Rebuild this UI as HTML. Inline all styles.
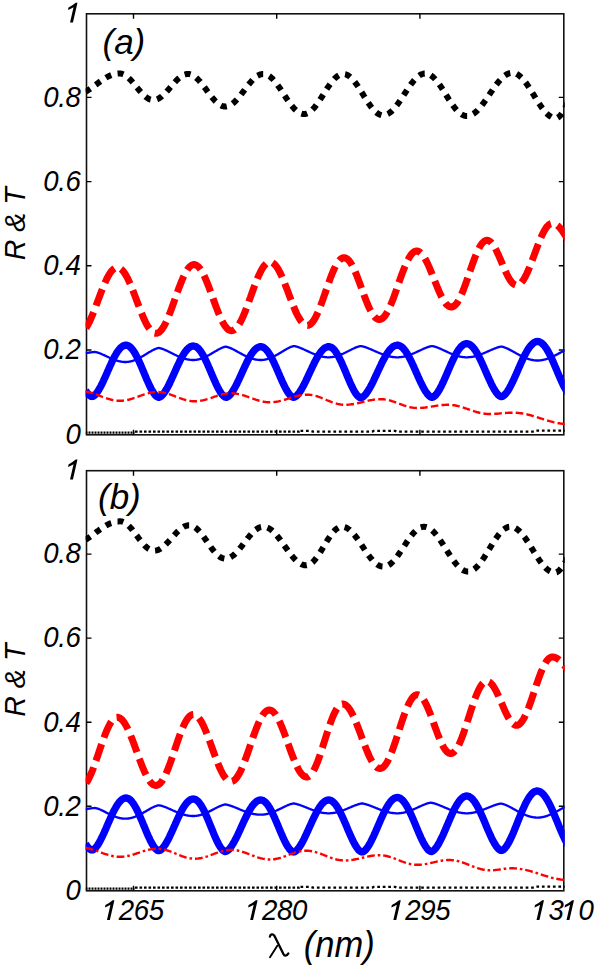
<!DOCTYPE html>
<html><head><meta charset="utf-8"><title>R &amp; T</title>
<style>
html,body{margin:0;padding:0;background:#fff;}
body{width:600px;height:967px;overflow:hidden;}
svg{display:block;}
text{font-family:"Liberation Sans",sans-serif;font-style:italic;fill:#000;}
.tk{font-size:27.6px;letter-spacing:-0.35px;}
.pl{font-size:35px;}
.yl{font-size:28.6px;}
.xl{font-size:34.5px;}
</style></head><body>
<svg width="600" height="967" viewBox="0 0 600 967">
<rect x="0" y="0" width="600" height="967" fill="#fff"/>
<g id="panel-a">
<rect x="86.5" y="13.8" width="477.3" height="421" fill="none" stroke="#111" stroke-width="1.6"/>
<path d="M133.5 13.8v5.0 M133.5 434.8v-5.0 M276.7 13.8v5.0 M276.7 434.8v-5.0 M419.9 13.8v5.0 M419.9 434.8v-5.0 M86.5 350.0h5.0 M563.8 350.0h-5.0 M86.5 265.8h5.0 M563.8 265.8h-5.0 M86.5 181.6h5.0 M563.8 181.6h-5.0 M86.5 97.4h5.0 M563.8 97.4h-5.0" stroke="#000" stroke-width="1.4" fill="none"/>
<clipPath id="clip-a"><rect x="85.6" y="13.8" width="479.1" height="421.9"/></clipPath>
<g clip-path="url(#clip-a)" fill="none" stroke-linejoin="round">
<path d="M85.5 353.2 L86.0 353.1 L86.5 353.0 L87.0 352.9 L87.5 352.8 L88.0 352.8 L88.5 352.7 L89.0 352.6 L89.5 352.5 L90.0 352.5 L90.5 352.4 L91.0 352.3 L91.5 352.3 L92.0 352.2 L92.5 352.2 L93.0 352.1 L93.5 352.1 L94.0 352.0 L94.5 352.0 L95.0 352.0 L95.5 352.1 L96.0 352.1 L96.5 352.3 L97.0 352.4 L97.5 352.5 L98.0 352.7 L98.5 352.8 L99.0 353.0 L99.5 353.2 L100.0 353.4 L100.5 353.6 L101.0 353.8 L101.5 354.0 L102.0 354.2 L102.5 354.5 L103.0 354.7 L103.5 354.9 L104.0 355.1 L104.5 355.4 L105.0 355.6 L105.5 355.8 L106.0 356.1 L106.5 356.3 L107.0 356.6 L107.5 356.8 L108.0 357.0 L108.5 357.3 L109.0 357.5 L109.5 357.7 L110.0 358.0 L110.5 358.2 L111.0 358.4 L111.5 358.6 L112.0 358.8 L112.5 359.0 L113.0 359.2 L113.5 359.4 L114.0 359.6 L114.5 359.8 L115.0 360.0 L115.5 360.2 L116.0 360.4 L116.5 360.5 L117.0 360.7 L117.5 360.8 L118.0 361.0 L118.5 361.1 L119.0 361.2 L119.5 361.3 L120.0 361.4 L120.5 361.5 L121.0 361.6 L121.5 361.7 L122.0 361.8 L122.5 361.8 L123.0 361.9 L123.5 361.9 L124.0 362.0 L124.5 362.0 L125.0 362.0 L125.5 362.0 L126.0 362.0 L126.5 362.0 L127.0 361.9 L127.5 361.9 L128.0 361.9 L128.5 361.8 L129.0 361.7 L129.5 361.6 L130.0 361.5 L130.5 361.4 L131.0 361.3 L131.5 361.2 L132.0 361.1 L132.5 360.9 L133.0 360.8 L133.5 360.6 L134.0 360.4 L134.5 360.2 L135.0 360.0 L135.5 359.8 L136.0 359.6 L136.5 359.4 L137.0 359.2 L137.5 358.9 L138.0 358.7 L138.5 358.5 L139.0 358.2 L139.5 357.9 L140.0 357.7 L140.5 357.4 L141.0 357.1 L141.5 356.8 L142.0 356.6 L142.5 356.3 L143.0 356.0 L143.5 355.7 L144.0 355.4 L144.5 355.1 L145.0 354.8 L145.5 354.5 L146.0 354.2 L146.5 353.9 L147.0 353.5 L147.5 353.2 L148.0 352.9 L148.5 352.6 L149.0 352.3 L149.5 352.0 L150.0 351.7 L150.5 351.5 L151.0 351.2 L151.5 350.9 L152.0 350.6 L152.5 350.3 L153.0 350.1 L153.5 349.8 L154.0 349.6 L154.5 349.4 L155.0 349.1 L155.5 348.9 L156.0 348.7 L156.5 348.5 L157.0 348.4 L157.5 348.2 L158.0 348.1 L158.5 348.0 L159.0 348.0 L159.5 348.1 L160.0 348.2 L160.5 348.3 L161.0 348.5 L161.5 348.6 L162.0 348.8 L162.5 348.9 L163.0 349.1 L163.5 349.3 L164.0 349.5 L164.5 349.7 L165.0 349.9 L165.5 350.2 L166.0 350.4 L166.5 350.6 L167.0 350.8 L167.5 351.1 L168.0 351.3 L168.5 351.6 L169.0 351.8 L169.5 352.1 L170.0 352.3 L170.5 352.6 L171.0 352.8 L171.5 353.1 L172.0 353.3 L172.5 353.6 L173.0 353.8 L173.5 354.1 L174.0 354.3 L174.5 354.6 L175.0 354.8 L175.5 355.0 L176.0 355.3 L176.5 355.5 L177.0 355.8 L177.5 356.0 L178.0 356.2 L178.5 356.4 L179.0 356.6 L179.5 356.9 L180.0 357.1 L180.5 357.3 L181.0 357.5 L181.5 357.7 L182.0 357.8 L182.5 358.0 L183.0 358.2 L183.5 358.4 L184.0 358.5 L184.5 358.7 L185.0 358.8 L185.5 358.9 L186.0 359.1 L186.5 359.2 L187.0 359.3 L187.5 359.4 L188.0 359.5 L188.5 359.6 L189.0 359.7 L189.5 359.7 L190.0 359.8 L190.5 359.9 L191.0 359.9 L191.5 359.9 L192.0 360.0 L192.5 360.0 L193.0 360.0 L193.5 360.0 L194.0 360.0 L194.5 360.0 L195.0 359.9 L195.5 359.9 L196.0 359.8 L196.5 359.8 L197.0 359.7 L197.5 359.6 L198.0 359.5 L198.5 359.4 L199.0 359.3 L199.5 359.1 L200.0 359.0 L200.5 358.9 L201.0 358.7 L201.5 358.5 L202.0 358.4 L202.5 358.2 L203.0 358.0 L203.5 357.8 L204.0 357.6 L204.5 357.3 L205.0 357.1 L205.5 356.9 L206.0 356.6 L206.5 356.4 L207.0 356.1 L207.5 355.9 L208.0 355.6 L208.5 355.3 L209.0 355.1 L209.5 354.8 L210.0 354.5 L210.5 354.2 L211.0 353.9 L211.5 353.6 L212.0 353.3 L212.5 353.0 L213.0 352.7 L213.5 352.4 L214.0 352.1 L214.5 351.8 L215.0 351.5 L215.5 351.2 L216.0 351.0 L216.5 350.7 L217.0 350.4 L217.5 350.1 L218.0 349.8 L218.5 349.5 L219.0 349.3 L219.5 349.0 L220.0 348.7 L220.5 348.5 L221.0 348.3 L221.5 348.0 L222.0 347.8 L222.5 347.6 L223.0 347.4 L223.5 347.2 L224.0 347.1 L224.5 346.9 L225.0 346.8 L225.5 346.7 L226.0 346.7 L226.5 346.8 L227.0 346.9 L227.5 347.1 L228.0 347.2 L228.5 347.4 L229.0 347.5 L229.5 347.7 L230.0 347.9 L230.5 348.1 L231.0 348.4 L231.5 348.6 L232.0 348.8 L232.5 349.1 L233.0 349.3 L233.5 349.5 L234.0 349.8 L234.5 350.1 L235.0 350.3 L235.5 350.6 L236.0 350.9 L236.5 351.1 L237.0 351.4 L237.5 351.7 L238.0 352.0 L238.5 352.2 L239.0 352.5 L239.5 352.8 L240.0 353.1 L240.5 353.3 L241.0 353.6 L241.5 353.9 L242.0 354.1 L242.5 354.4 L243.0 354.7 L243.5 354.9 L244.0 355.2 L244.5 355.4 L245.0 355.7 L245.5 355.9 L246.0 356.2 L246.5 356.4 L247.0 356.6 L247.5 356.9 L248.0 357.1 L248.5 357.3 L249.0 357.5 L249.5 357.7 L250.0 357.9 L250.5 358.1 L251.0 358.3 L251.5 358.4 L252.0 358.6 L252.5 358.7 L253.0 358.9 L253.5 359.0 L254.0 359.1 L254.5 359.3 L255.0 359.4 L255.5 359.5 L256.0 359.6 L256.5 359.7 L257.0 359.7 L257.5 359.8 L258.0 359.9 L258.5 359.9 L259.0 359.9 L259.5 360.0 L260.0 360.0 L260.5 360.0 L261.0 360.0 L261.5 360.0 L262.0 360.0 L262.5 359.9 L263.0 359.9 L263.5 359.8 L264.0 359.8 L264.5 359.7 L265.0 359.6 L265.5 359.5 L266.0 359.4 L266.5 359.3 L267.0 359.1 L267.5 359.0 L268.0 358.8 L268.5 358.7 L269.0 358.5 L269.5 358.3 L270.0 358.1 L270.5 357.9 L271.0 357.7 L271.5 357.5 L272.0 357.3 L272.5 357.1 L273.0 356.8 L273.5 356.6 L274.0 356.4 L274.5 356.1 L275.0 355.8 L275.5 355.6 L276.0 355.3 L276.5 355.0 L277.0 354.7 L277.5 354.5 L278.0 354.2 L278.5 353.9 L279.0 353.6 L279.5 353.3 L280.0 353.0 L280.5 352.7 L281.0 352.4 L281.5 352.1 L282.0 351.8 L282.5 351.5 L283.0 351.2 L283.5 350.9 L284.0 350.6 L284.5 350.3 L285.0 350.0 L285.5 349.7 L286.0 349.4 L286.5 349.1 L287.0 348.8 L287.5 348.6 L288.0 348.3 L288.5 348.1 L289.0 347.8 L289.5 347.6 L290.0 347.3 L290.5 347.1 L291.0 346.9 L291.5 346.7 L292.0 346.6 L292.5 346.4 L293.0 346.3 L293.5 346.2 L294.0 346.1 L294.5 346.1 L295.0 346.2 L295.5 346.3 L296.0 346.5 L296.5 346.6 L297.0 346.7 L297.5 346.9 L298.0 347.0 L298.5 347.2 L299.0 347.4 L299.5 347.6 L300.0 347.8 L300.5 348.0 L301.0 348.2 L301.5 348.4 L302.0 348.6 L302.5 348.8 L303.0 349.1 L303.5 349.3 L304.0 349.5 L304.5 349.7 L305.0 350.0 L305.5 350.2 L306.0 350.4 L306.5 350.7 L307.0 350.9 L307.5 351.1 L308.0 351.4 L308.5 351.6 L309.0 351.8 L309.5 352.1 L310.0 352.3 L310.5 352.5 L311.0 352.7 L311.5 353.0 L312.0 353.2 L312.5 353.4 L313.0 353.6 L313.5 353.8 L314.0 354.0 L314.5 354.2 L315.0 354.4 L315.5 354.6 L316.0 354.8 L316.5 355.0 L317.0 355.2 L317.5 355.3 L318.0 355.5 L318.5 355.7 L319.0 355.8 L319.5 355.9 L320.0 356.1 L320.5 356.2 L321.0 356.3 L321.5 356.5 L322.0 356.6 L322.5 356.7 L323.0 356.8 L323.5 356.9 L324.0 356.9 L324.5 357.0 L325.0 357.1 L325.5 357.1 L326.0 357.2 L326.5 357.2 L327.0 357.3 L327.5 357.3 L328.0 357.3 L328.5 357.3 L329.0 357.3 L329.5 357.3 L330.0 357.3 L330.5 357.2 L331.0 357.2 L331.5 357.1 L332.0 357.1 L332.5 357.0 L333.0 356.9 L333.5 356.9 L334.0 356.8 L334.5 356.7 L335.0 356.5 L335.5 356.4 L336.0 356.3 L336.5 356.2 L337.0 356.0 L337.5 355.8 L338.0 355.7 L338.5 355.5 L339.0 355.3 L339.5 355.2 L340.0 355.0 L340.5 354.8 L341.0 354.6 L341.5 354.4 L342.0 354.1 L342.5 353.9 L343.0 353.7 L343.5 353.5 L344.0 353.2 L344.5 353.0 L345.0 352.8 L345.5 352.5 L346.0 352.3 L346.5 352.0 L347.0 351.8 L347.5 351.5 L348.0 351.3 L348.5 351.0 L349.0 350.8 L349.5 350.5 L350.0 350.2 L350.5 350.0 L351.0 349.7 L351.5 349.5 L352.0 349.2 L352.5 349.0 L353.0 348.8 L353.5 348.5 L354.0 348.3 L354.5 348.1 L355.0 347.9 L355.5 347.6 L356.0 347.4 L356.5 347.2 L357.0 347.1 L357.5 346.9 L358.0 346.7 L358.5 346.6 L359.0 346.4 L359.5 346.3 L360.0 346.2 L360.5 346.1 L361.0 346.1 L361.5 346.2 L362.0 346.3 L362.5 346.4 L363.0 346.5 L363.5 346.6 L364.0 346.8 L364.5 346.9 L365.0 347.1 L365.5 347.2 L366.0 347.4 L366.5 347.6 L367.0 347.8 L367.5 348.0 L368.0 348.2 L368.5 348.4 L369.0 348.6 L369.5 348.8 L370.0 349.0 L370.5 349.2 L371.0 349.4 L371.5 349.6 L372.0 349.8 L372.5 350.1 L373.0 350.3 L373.5 350.5 L374.0 350.7 L374.5 350.9 L375.0 351.2 L375.5 351.4 L376.0 351.6 L376.5 351.8 L377.0 352.0 L377.5 352.3 L378.0 352.5 L378.5 352.7 L379.0 352.9 L379.5 353.1 L380.0 353.3 L380.5 353.5 L381.0 353.7 L381.5 353.9 L382.0 354.1 L382.5 354.3 L383.0 354.5 L383.5 354.7 L384.0 354.8 L384.5 355.0 L385.0 355.2 L385.5 355.3 L386.0 355.5 L386.5 355.6 L387.0 355.8 L387.5 355.9 L388.0 356.1 L388.5 356.2 L389.0 356.3 L389.5 356.4 L390.0 356.5 L390.5 356.6 L391.0 356.7 L391.5 356.8 L392.0 356.9 L392.5 357.0 L393.0 357.0 L393.5 357.1 L394.0 357.1 L394.5 357.2 L395.0 357.2 L395.5 357.3 L396.0 357.3 L396.5 357.3 L397.0 357.3 L397.5 357.3 L398.0 357.3 L398.5 357.3 L399.0 357.3 L399.5 357.2 L400.0 357.2 L400.5 357.1 L401.0 357.1 L401.5 357.0 L402.0 356.9 L402.5 356.9 L403.0 356.8 L403.5 356.7 L404.0 356.6 L404.5 356.5 L405.0 356.3 L405.5 356.2 L406.0 356.1 L406.5 355.9 L407.0 355.8 L407.5 355.7 L408.0 355.5 L408.5 355.3 L409.0 355.2 L409.5 355.0 L410.0 354.8 L410.5 354.6 L411.0 354.4 L411.5 354.2 L412.0 354.0 L412.5 353.8 L413.0 353.6 L413.5 353.4 L414.0 353.2 L414.5 353.0 L415.0 352.7 L415.5 352.5 L416.0 352.3 L416.5 352.1 L417.0 351.8 L417.5 351.6 L418.0 351.4 L418.5 351.1 L419.0 350.9 L419.5 350.7 L420.0 350.4 L420.5 350.2 L421.0 350.0 L421.5 349.7 L422.0 349.5 L422.5 349.3 L423.0 349.1 L423.5 348.8 L424.0 348.6 L424.5 348.4 L425.0 348.2 L425.5 348.0 L426.0 347.8 L426.5 347.6 L427.0 347.4 L427.5 347.2 L428.0 347.0 L428.5 346.9 L429.0 346.7 L429.5 346.6 L430.0 346.5 L430.5 346.3 L431.0 346.2 L431.5 346.1 L432.0 346.1 L432.5 346.1 L433.0 346.2 L433.5 346.3 L434.0 346.5 L434.5 346.6 L435.0 346.7 L435.5 346.9 L436.0 347.0 L436.5 347.2 L437.0 347.4 L437.5 347.6 L438.0 347.8 L438.5 348.0 L439.0 348.2 L439.5 348.4 L440.0 348.6 L440.5 348.8 L441.0 349.1 L441.5 349.3 L442.0 349.5 L442.5 349.7 L443.0 350.0 L443.5 350.2 L444.0 350.4 L444.5 350.7 L445.0 350.9 L445.5 351.1 L446.0 351.4 L446.5 351.6 L447.0 351.8 L447.5 352.1 L448.0 352.3 L448.5 352.5 L449.0 352.7 L449.5 353.0 L450.0 353.2 L450.5 353.4 L451.0 353.6 L451.5 353.8 L452.0 354.0 L452.5 354.2 L453.0 354.4 L453.5 354.6 L454.0 354.8 L454.5 355.0 L455.0 355.2 L455.5 355.3 L456.0 355.5 L456.5 355.7 L457.0 355.8 L457.5 355.9 L458.0 356.1 L458.5 356.2 L459.0 356.3 L459.5 356.5 L460.0 356.6 L460.5 356.7 L461.0 356.8 L461.5 356.9 L462.0 356.9 L462.5 357.0 L463.0 357.1 L463.5 357.1 L464.0 357.2 L464.5 357.2 L465.0 357.3 L465.5 357.3 L466.0 357.3 L466.5 357.3 L467.0 357.3 L467.5 357.3 L468.0 357.3 L468.5 357.2 L469.0 357.2 L469.5 357.2 L470.0 357.1 L470.5 357.1 L471.0 357.0 L471.5 356.9 L472.0 356.9 L472.5 356.8 L473.0 356.7 L473.5 356.6 L474.0 356.5 L474.5 356.4 L475.0 356.2 L475.5 356.1 L476.0 356.0 L476.5 355.8 L477.0 355.7 L477.5 355.5 L478.0 355.4 L478.5 355.2 L479.0 355.1 L479.5 354.9 L480.0 354.7 L480.5 354.5 L481.0 354.3 L481.5 354.1 L482.0 353.9 L482.5 353.7 L483.0 353.5 L483.5 353.3 L484.0 353.1 L484.5 352.9 L485.0 352.7 L485.5 352.5 L486.0 352.3 L486.5 352.0 L487.0 351.8 L487.5 351.6 L488.0 351.4 L488.5 351.1 L489.0 350.9 L489.5 350.7 L490.0 350.5 L490.5 350.2 L491.0 350.0 L491.5 349.8 L492.0 349.6 L492.5 349.4 L493.0 349.2 L493.5 349.0 L494.0 348.8 L494.5 348.6 L495.0 348.4 L495.5 348.2 L496.0 348.0 L496.5 347.8 L497.0 347.6 L497.5 347.5 L498.0 347.3 L498.5 347.2 L499.0 347.0 L499.5 346.9 L500.0 346.8 L500.5 346.7 L501.0 346.6 L501.5 346.6 L502.0 346.7 L502.5 346.8 L503.0 346.9 L503.5 347.0 L504.0 347.2 L504.5 347.4 L505.0 347.6 L505.5 347.8 L506.0 348.0 L506.5 348.2 L507.0 348.4 L507.5 348.6 L508.0 348.9 L508.5 349.1 L509.0 349.4 L509.5 349.6 L510.0 349.9 L510.5 350.1 L511.0 350.4 L511.5 350.7 L512.0 350.9 L512.5 351.2 L513.0 351.5 L513.5 351.8 L514.0 352.1 L514.5 352.3 L515.0 352.6 L515.5 352.9 L516.0 353.2 L516.5 353.5 L517.0 353.7 L517.5 354.0 L518.0 354.3 L518.5 354.6 L519.0 354.8 L519.5 355.1 L520.0 355.4 L520.5 355.6 L521.0 355.9 L521.5 356.1 L522.0 356.4 L522.5 356.6 L523.0 356.8 L523.5 357.1 L524.0 357.3 L524.5 357.5 L525.0 357.7 L525.5 357.9 L526.0 358.1 L526.5 358.3 L527.0 358.5 L527.5 358.7 L528.0 358.9 L528.5 359.0 L529.0 359.2 L529.5 359.3 L530.0 359.5 L530.5 359.6 L531.0 359.7 L531.5 359.8 L532.0 360.0 L532.5 360.0 L533.0 360.1 L533.5 360.2 L534.0 360.3 L534.5 360.3 L535.0 360.4 L535.5 360.4 L536.0 360.5 L536.5 360.5 L537.0 360.5 L537.5 360.5 L538.0 360.5 L538.5 360.5 L539.0 360.5 L539.5 360.4 L540.0 360.4 L540.5 360.3 L541.0 360.3 L541.5 360.2 L542.0 360.1 L542.5 360.0 L543.0 359.9 L543.5 359.8 L544.0 359.7 L544.5 359.6 L545.0 359.5 L545.5 359.3 L546.0 359.2 L546.5 359.0 L547.0 358.9 L547.5 358.7 L548.0 358.5 L548.5 358.3 L549.0 358.1 L549.5 357.9 L550.0 357.7 L550.5 357.5 L551.0 357.3 L551.5 357.1 L552.0 356.9 L552.5 356.6 L553.0 356.4 L553.5 356.2 L554.0 355.9 L554.5 355.7 L555.0 355.4 L555.5 355.2 L556.0 354.9 L556.5 354.7 L557.0 354.4 L557.5 354.2 L558.0 353.9 L558.5 353.6 L559.0 353.4 L559.5 353.1 L560.0 352.9 L560.5 352.6 L561.0 352.3 L561.5 352.1 L562.0 351.8 L562.5 351.6 L563.0 351.3 L563.5 351.1 L564.0 350.8 L564.5 350.6 L565.0 350.3 L565.5 350.1 L566.0 349.9 L566.5 349.7 L567.0 349.5 L567.5 349.3 L568.0 349.1" stroke="#00f" stroke-width="2.3"/>
<path d="M85.5 390.4 L86.0 391.2 L86.5 391.9 L87.0 392.6 L87.5 393.3 L88.0 393.9 L88.5 394.4 L89.0 394.9 L89.5 395.3 L90.0 395.7 L90.5 396.0 L91.0 396.3 L91.5 396.4 L92.0 396.5 L92.5 396.4 L93.0 396.3 L93.5 396.0 L94.0 395.7 L94.5 395.3 L95.0 394.9 L95.5 394.4 L96.0 393.8 L96.5 393.2 L97.0 392.5 L97.5 391.8 L98.0 391.1 L98.5 390.3 L99.0 389.5 L99.5 388.6 L100.0 387.7 L100.5 386.8 L101.0 385.9 L101.5 384.9 L102.0 383.9 L102.5 382.8 L103.0 381.8 L103.5 380.7 L104.0 379.6 L104.5 378.5 L105.0 377.4 L105.5 376.3 L106.0 375.2 L106.5 374.0 L107.0 372.9 L107.5 371.7 L108.0 370.6 L108.5 369.5 L109.0 368.3 L109.5 367.2 L110.0 366.1 L110.5 365.0 L111.0 363.9 L111.5 362.8 L112.0 361.7 L112.5 360.7 L113.0 359.7 L113.5 358.7 L114.0 357.7 L114.5 356.7 L115.0 355.8 L115.5 354.9 L116.0 354.1 L116.5 353.2 L117.0 352.4 L117.5 351.7 L118.0 351.0 L118.5 350.3 L119.0 349.6 L119.5 349.0 L120.0 348.5 L120.5 347.9 L121.0 347.5 L121.5 347.0 L122.0 346.6 L122.5 346.3 L123.0 346.0 L123.5 345.8 L124.0 345.5 L124.5 345.4 L125.0 345.3 L125.5 345.2 L126.0 345.2 L126.5 345.2 L127.0 345.3 L127.5 345.5 L128.0 345.7 L128.5 345.9 L129.0 346.2 L129.5 346.5 L130.0 346.9 L130.5 347.4 L131.0 347.9 L131.5 348.4 L132.0 349.0 L132.5 349.6 L133.0 350.3 L133.5 351.0 L134.0 351.7 L134.5 352.5 L135.0 353.4 L135.5 354.2 L136.0 355.2 L136.5 356.1 L137.0 357.1 L137.5 358.1 L138.0 359.1 L138.5 360.1 L139.0 361.2 L139.5 362.3 L140.0 363.4 L140.5 364.6 L141.0 365.7 L141.5 366.9 L142.0 368.1 L142.5 369.3 L143.0 370.5 L143.5 371.7 L144.0 372.9 L144.5 374.1 L145.0 375.3 L145.5 376.4 L146.0 377.6 L146.5 378.8 L147.0 380.0 L147.5 381.1 L148.0 382.2 L148.5 383.3 L149.0 384.4 L149.5 385.5 L150.0 386.5 L150.5 387.5 L151.0 388.5 L151.5 389.4 L152.0 390.3 L152.5 391.2 L153.0 392.0 L153.5 392.7 L154.0 393.5 L154.5 394.1 L155.0 394.8 L155.5 395.3 L156.0 395.8 L156.5 396.3 L157.0 396.6 L157.5 396.9 L158.0 397.2 L158.5 397.3 L159.0 397.3 L159.5 397.1 L160.0 396.9 L160.5 396.6 L161.0 396.3 L161.5 395.9 L162.0 395.4 L162.5 394.9 L163.0 394.3 L163.5 393.7 L164.0 393.1 L164.5 392.4 L165.0 391.6 L165.5 390.8 L166.0 390.0 L166.5 389.2 L167.0 388.3 L167.5 387.4 L168.0 386.4 L168.5 385.5 L169.0 384.5 L169.5 383.5 L170.0 382.4 L170.5 381.4 L171.0 380.3 L171.5 379.2 L172.0 378.1 L172.5 377.0 L173.0 375.9 L173.5 374.8 L174.0 373.7 L174.5 372.6 L175.0 371.5 L175.5 370.3 L176.0 369.2 L176.5 368.1 L177.0 367.0 L177.5 365.9 L178.0 364.9 L178.5 363.8 L179.0 362.8 L179.5 361.7 L180.0 360.7 L180.5 359.7 L181.0 358.8 L181.5 357.8 L182.0 356.9 L182.5 356.1 L183.0 355.2 L183.5 354.4 L184.0 353.6 L184.5 352.8 L185.0 352.1 L185.5 351.4 L186.0 350.8 L186.5 350.1 L187.0 349.6 L187.5 349.0 L188.0 348.5 L188.5 348.1 L189.0 347.7 L189.5 347.3 L190.0 347.0 L190.5 346.7 L191.0 346.5 L191.5 346.3 L192.0 346.2 L192.5 346.1 L193.0 346.0 L193.5 346.0 L194.0 346.1 L194.5 346.1 L195.0 346.3 L195.5 346.5 L196.0 346.7 L196.5 347.0 L197.0 347.4 L197.5 347.8 L198.0 348.2 L198.5 348.7 L199.0 349.3 L199.5 349.8 L200.0 350.5 L200.5 351.1 L201.0 351.9 L201.5 352.6 L202.0 353.4 L202.5 354.2 L203.0 355.1 L203.5 356.0 L204.0 356.9 L204.5 357.9 L205.0 358.9 L205.5 359.9 L206.0 360.9 L206.5 362.0 L207.0 363.1 L207.5 364.2 L208.0 365.3 L208.5 366.5 L209.0 367.6 L209.5 368.8 L210.0 369.9 L210.5 371.1 L211.0 372.3 L211.5 373.5 L212.0 374.7 L212.5 375.8 L213.0 377.0 L213.5 378.2 L214.0 379.3 L214.5 380.4 L215.0 381.6 L215.5 382.7 L216.0 383.8 L216.5 384.8 L217.0 385.9 L217.5 386.9 L218.0 387.8 L218.5 388.8 L219.0 389.7 L219.5 390.6 L220.0 391.4 L220.5 392.2 L221.0 393.0 L221.5 393.7 L222.0 394.3 L222.5 394.9 L223.0 395.5 L223.5 395.9 L224.0 396.4 L224.5 396.7 L225.0 397.0 L225.5 397.2 L226.0 397.3 L226.5 397.3 L227.0 397.1 L227.5 396.9 L228.0 396.6 L228.5 396.2 L229.0 395.8 L229.5 395.4 L230.0 394.8 L230.5 394.3 L231.0 393.7 L231.5 393.0 L232.0 392.3 L232.5 391.6 L233.0 390.8 L233.5 390.0 L234.0 389.1 L234.5 388.2 L235.0 387.3 L235.5 386.4 L236.0 385.4 L236.5 384.5 L237.0 383.5 L237.5 382.4 L238.0 381.4 L238.5 380.3 L239.0 379.3 L239.5 378.2 L240.0 377.1 L240.5 376.0 L241.0 374.9 L241.5 373.8 L242.0 372.7 L242.5 371.6 L243.0 370.5 L243.5 369.4 L244.0 368.3 L244.5 367.2 L245.0 366.2 L245.5 365.1 L246.0 364.1 L246.5 363.0 L247.0 362.0 L247.5 361.0 L248.0 360.1 L248.5 359.1 L249.0 358.2 L249.5 357.3 L250.0 356.4 L250.5 355.6 L251.0 354.8 L251.5 354.0 L252.0 353.3 L252.5 352.6 L253.0 351.9 L253.5 351.3 L254.0 350.7 L254.5 350.1 L255.0 349.6 L255.5 349.1 L256.0 348.7 L256.5 348.3 L257.0 347.9 L257.5 347.6 L258.0 347.4 L258.5 347.1 L259.0 347.0 L259.5 346.8 L260.0 346.7 L260.5 346.7 L261.0 346.7 L261.5 346.8 L262.0 346.9 L262.5 347.0 L263.0 347.2 L263.5 347.5 L264.0 347.8 L264.5 348.1 L265.0 348.5 L265.5 349.0 L266.0 349.5 L266.5 350.0 L267.0 350.6 L267.5 351.2 L268.0 351.9 L268.5 352.6 L269.0 353.4 L269.5 354.2 L270.0 355.0 L270.5 355.8 L271.0 356.7 L271.5 357.7 L272.0 358.6 L272.5 359.6 L273.0 360.6 L273.5 361.6 L274.0 362.7 L274.5 363.8 L275.0 364.9 L275.5 366.0 L276.0 367.1 L276.5 368.2 L277.0 369.4 L277.5 370.5 L278.0 371.7 L278.5 372.9 L279.0 374.0 L279.5 375.2 L280.0 376.4 L280.5 377.5 L281.0 378.6 L281.5 379.8 L282.0 380.9 L282.5 382.0 L283.0 383.1 L283.5 384.2 L284.0 385.2 L284.5 386.2 L285.0 387.2 L285.5 388.2 L286.0 389.1 L286.5 390.0 L287.0 390.8 L287.5 391.7 L288.0 392.4 L288.5 393.2 L289.0 393.8 L289.5 394.5 L290.0 395.1 L290.5 395.6 L291.0 396.0 L291.5 396.4 L292.0 396.8 L292.5 397.0 L293.0 397.2 L293.5 397.3 L294.0 397.2 L294.5 397.1 L295.0 396.8 L295.5 396.5 L296.0 396.2 L296.5 395.8 L297.0 395.3 L297.5 394.8 L298.0 394.2 L298.5 393.6 L299.0 393.0 L299.5 392.3 L300.0 391.6 L300.5 390.8 L301.0 390.0 L301.5 389.2 L302.0 388.3 L302.5 387.4 L303.0 386.5 L303.5 385.6 L304.0 384.6 L304.5 383.6 L305.0 382.6 L305.5 381.6 L306.0 380.6 L306.5 379.5 L307.0 378.5 L307.5 377.4 L308.0 376.3 L308.5 375.2 L309.0 374.2 L309.5 373.1 L310.0 372.0 L310.5 370.9 L311.0 369.8 L311.5 368.8 L312.0 367.7 L312.5 366.6 L313.0 365.6 L313.5 364.6 L314.0 363.5 L314.5 362.5 L315.0 361.6 L315.5 360.6 L316.0 359.7 L316.5 358.7 L317.0 357.8 L317.5 357.0 L318.0 356.1 L318.5 355.3 L319.0 354.5 L319.5 353.8 L320.0 353.1 L320.5 352.4 L321.0 351.7 L321.5 351.1 L322.0 350.5 L322.5 350.0 L323.0 349.5 L323.5 349.0 L324.0 348.6 L324.5 348.2 L325.0 347.9 L325.5 347.6 L326.0 347.3 L326.5 347.1 L327.0 347.0 L327.5 346.8 L328.0 346.7 L328.5 346.7 L329.0 346.7 L329.5 346.8 L330.0 346.9 L330.5 347.0 L331.0 347.3 L331.5 347.5 L332.0 347.9 L332.5 348.2 L333.0 348.7 L333.5 349.1 L334.0 349.6 L334.5 350.2 L335.0 350.8 L335.5 351.5 L336.0 352.2 L336.5 353.0 L337.0 353.7 L337.5 354.6 L338.0 355.4 L338.5 356.3 L339.0 357.3 L339.5 358.3 L340.0 359.3 L340.5 360.3 L341.0 361.3 L341.5 362.4 L342.0 363.5 L342.5 364.7 L343.0 365.8 L343.5 367.0 L344.0 368.1 L344.5 369.3 L345.0 370.5 L345.5 371.7 L346.0 372.9 L346.5 374.1 L347.0 375.3 L347.5 376.5 L348.0 377.7 L348.5 378.9 L349.0 380.1 L349.5 381.2 L350.0 382.4 L350.5 383.5 L351.0 384.6 L351.5 385.7 L352.0 386.7 L352.5 387.7 L353.0 388.7 L353.5 389.6 L354.0 390.6 L354.5 391.4 L355.0 392.3 L355.5 393.0 L356.0 393.8 L356.5 394.5 L357.0 395.1 L357.5 395.7 L358.0 396.2 L358.5 396.6 L359.0 397.0 L359.5 397.3 L360.0 397.6 L360.5 397.7 L361.0 397.7 L361.5 397.6 L362.0 397.4 L362.5 397.1 L363.0 396.8 L363.5 396.4 L364.0 396.0 L364.5 395.5 L365.0 395.0 L365.5 394.4 L366.0 393.8 L366.5 393.1 L367.0 392.4 L367.5 391.7 L368.0 390.9 L368.5 390.1 L369.0 389.3 L369.5 388.4 L370.0 387.6 L370.5 386.7 L371.0 385.7 L371.5 384.8 L372.0 383.8 L372.5 382.8 L373.0 381.8 L373.5 380.8 L374.0 379.7 L374.5 378.7 L375.0 377.6 L375.5 376.5 L376.0 375.5 L376.5 374.4 L377.0 373.3 L377.5 372.2 L378.0 371.1 L378.5 370.1 L379.0 369.0 L379.5 367.9 L380.0 366.8 L380.5 365.8 L381.0 364.8 L381.5 363.7 L382.0 362.7 L382.5 361.7 L383.0 360.7 L383.5 359.8 L384.0 358.8 L384.5 357.9 L385.0 357.0 L385.5 356.1 L386.0 355.3 L386.5 354.5 L387.0 353.7 L387.5 352.9 L388.0 352.2 L388.5 351.5 L389.0 350.8 L389.5 350.2 L390.0 349.6 L390.5 349.0 L391.0 348.5 L391.5 348.0 L392.0 347.5 L392.5 347.1 L393.0 346.7 L393.5 346.4 L394.0 346.1 L394.5 345.9 L395.0 345.6 L395.5 345.5 L396.0 345.3 L396.5 345.3 L397.0 345.2 L397.5 345.2 L398.0 345.2 L398.5 345.3 L399.0 345.5 L399.5 345.6 L400.0 345.9 L400.5 346.1 L401.0 346.5 L401.5 346.8 L402.0 347.2 L402.5 347.7 L403.0 348.2 L403.5 348.7 L404.0 349.3 L404.5 349.9 L405.0 350.5 L405.5 351.2 L406.0 351.9 L406.5 352.7 L407.0 353.5 L407.5 354.3 L408.0 355.2 L408.5 356.1 L409.0 357.0 L409.5 357.9 L410.0 358.9 L410.5 359.9 L411.0 360.9 L411.5 361.9 L412.0 363.0 L412.5 364.1 L413.0 365.1 L413.5 366.2 L414.0 367.3 L414.5 368.5 L415.0 369.6 L415.5 370.7 L416.0 371.8 L416.5 373.0 L417.0 374.1 L417.5 375.2 L418.0 376.4 L418.5 377.5 L419.0 378.6 L419.5 379.7 L420.0 380.8 L420.5 381.8 L421.0 382.9 L421.5 383.9 L422.0 384.9 L422.5 385.9 L423.0 386.9 L423.5 387.8 L424.0 388.7 L424.5 389.6 L425.0 390.4 L425.5 391.3 L426.0 392.0 L426.5 392.7 L427.0 393.4 L427.5 394.1 L428.0 394.7 L428.5 395.2 L429.0 395.7 L429.5 396.1 L430.0 396.5 L430.5 396.8 L431.0 397.1 L431.5 397.2 L432.0 397.3 L432.5 397.2 L433.0 397.1 L433.5 396.8 L434.0 396.5 L434.5 396.1 L435.0 395.6 L435.5 395.1 L436.0 394.6 L436.5 394.0 L437.0 393.3 L437.5 392.6 L438.0 391.9 L438.5 391.1 L439.0 390.3 L439.5 389.4 L440.0 388.5 L440.5 387.6 L441.0 386.6 L441.5 385.6 L442.0 384.6 L442.5 383.5 L443.0 382.5 L443.5 381.4 L444.0 380.3 L444.5 379.2 L445.0 378.1 L445.5 376.9 L446.0 375.8 L446.5 374.6 L447.0 373.4 L447.5 372.3 L448.0 371.1 L448.5 369.9 L449.0 368.8 L449.5 367.6 L450.0 366.5 L450.5 365.3 L451.0 364.2 L451.5 363.1 L452.0 362.0 L452.5 360.9 L453.0 359.9 L453.5 358.8 L454.0 357.8 L454.5 356.8 L455.0 355.8 L455.5 354.9 L456.0 354.0 L456.5 353.1 L457.0 352.2 L457.5 351.4 L458.0 350.6 L458.5 349.9 L459.0 349.2 L459.5 348.5 L460.0 347.9 L460.5 347.3 L461.0 346.7 L461.5 346.2 L462.0 345.8 L462.5 345.4 L463.0 345.0 L463.5 344.7 L464.0 344.4 L464.5 344.2 L465.0 344.0 L465.5 343.8 L466.0 343.7 L466.5 343.7 L467.0 343.7 L467.5 343.8 L468.0 343.9 L468.5 344.0 L469.0 344.2 L469.5 344.4 L470.0 344.7 L470.5 345.1 L471.0 345.4 L471.5 345.8 L472.0 346.3 L472.5 346.8 L473.0 347.4 L473.5 348.0 L474.0 348.6 L474.5 349.2 L475.0 350.0 L475.5 350.7 L476.0 351.5 L476.5 352.3 L477.0 353.1 L477.5 354.0 L478.0 354.9 L478.5 355.9 L479.0 356.8 L479.5 357.8 L480.0 358.8 L480.5 359.8 L481.0 360.9 L481.5 362.0 L482.0 363.1 L482.5 364.2 L483.0 365.3 L483.5 366.4 L484.0 367.5 L484.5 368.7 L485.0 369.8 L485.5 371.0 L486.0 372.1 L486.5 373.3 L487.0 374.4 L487.5 375.6 L488.0 376.7 L488.5 377.8 L489.0 378.9 L489.5 380.0 L490.0 381.1 L490.5 382.2 L491.0 383.2 L491.5 384.3 L492.0 385.3 L492.5 386.2 L493.0 387.2 L493.5 388.1 L494.0 389.0 L494.5 389.8 L495.0 390.6 L495.5 391.4 L496.0 392.1 L496.5 392.8 L497.0 393.4 L497.5 394.0 L498.0 394.6 L498.5 395.1 L499.0 395.5 L499.5 395.9 L500.0 396.2 L500.5 396.4 L501.0 396.6 L501.5 396.6 L502.0 396.5 L502.5 396.3 L503.0 396.1 L503.5 395.7 L504.0 395.4 L504.5 394.9 L505.0 394.4 L505.5 393.9 L506.0 393.3 L506.5 392.7 L507.0 392.0 L507.5 391.3 L508.0 390.5 L508.5 389.7 L509.0 388.9 L509.5 388.0 L510.0 387.1 L510.5 386.1 L511.0 385.2 L511.5 384.2 L512.0 383.2 L512.5 382.2 L513.0 381.1 L513.5 380.0 L514.0 378.9 L514.5 377.8 L515.0 376.7 L515.5 375.6 L516.0 374.5 L516.5 373.3 L517.0 372.2 L517.5 371.0 L518.0 369.9 L518.5 368.7 L519.0 367.6 L519.5 366.5 L520.0 365.3 L520.5 364.2 L521.0 363.1 L521.5 362.0 L522.0 360.9 L522.5 359.8 L523.0 358.7 L523.5 357.7 L524.0 356.7 L524.5 355.7 L525.0 354.7 L525.5 353.8 L526.0 352.8 L526.5 351.9 L527.0 351.1 L527.5 350.2 L528.0 349.4 L528.5 348.7 L529.0 347.9 L529.5 347.2 L530.0 346.6 L530.5 345.9 L531.0 345.3 L531.5 344.8 L532.0 344.3 L532.5 343.8 L533.0 343.4 L533.5 343.0 L534.0 342.7 L534.5 342.4 L535.0 342.1 L535.5 341.9 L536.0 341.7 L536.5 341.6 L537.0 341.5 L537.5 341.5 L538.0 341.5 L538.5 341.6 L539.0 341.7 L539.5 341.8 L540.0 342.1 L540.5 342.3 L541.0 342.6 L541.5 343.0 L542.0 343.3 L542.5 343.8 L543.0 344.3 L543.5 344.8 L544.0 345.4 L544.5 346.0 L545.0 346.6 L545.5 347.3 L546.0 348.0 L546.5 348.8 L547.0 349.6 L547.5 350.5 L548.0 351.3 L548.5 352.2 L549.0 353.2 L549.5 354.1 L550.0 355.1 L550.5 356.1 L551.0 357.2 L551.5 358.2 L552.0 359.3 L552.5 360.4 L553.0 361.6 L553.5 362.7 L554.0 363.8 L554.5 365.0 L555.0 366.2 L555.5 367.3 L556.0 368.5 L556.5 369.7 L557.0 370.9 L557.5 372.1 L558.0 373.3 L558.5 374.4 L559.0 375.6 L559.5 376.8 L560.0 377.9 L560.5 379.1 L561.0 380.2 L561.5 381.3 L562.0 382.4 L562.5 383.4 L563.0 384.5 L563.5 385.5 L564.0 386.5 L564.5 387.4 L565.0 388.3 L565.5 389.2 L566.0 390.0 L566.5 390.9 L567.0 391.6 L567.5 392.3 L568.0 393.0" stroke="#00f" stroke-width="7.3"/>
<path d="M85.5 391.5 L86.5 391.6 L87.5 391.8 L88.5 392.1 L89.5 392.3 L90.5 392.6 L91.5 392.9 L92.5 393.2 L93.5 393.5 L94.5 393.8 L95.5 394.2 L96.5 394.6 L97.5 394.9 L98.5 395.3 L99.5 395.7 L100.5 396.1 L101.5 396.5 L102.5 396.9 L103.5 397.2 L104.5 397.6 L105.5 398.0 L106.5 398.3 L107.5 398.6 L108.5 398.9 L109.5 399.2 L110.5 399.5 L111.5 399.7 L112.5 400.0 L113.5 400.2 L114.5 400.3 L115.5 400.5 L116.5 400.6 L117.5 400.7 L118.5 400.8 L119.5 400.8 L120.5 400.8 L121.5 400.8 L122.5 400.7 L123.5 400.6 L124.5 400.5 L125.5 400.3 L126.5 400.2 L127.5 400.0 L128.5 399.7 L129.5 399.5 L130.5 399.2 L131.5 398.9 L132.5 398.6 L133.5 398.2 L134.5 397.9 L135.5 397.6 L136.5 397.2 L137.5 396.8 L138.5 396.5 L139.5 396.1 L140.5 395.7 L141.5 395.4 L142.5 395.0 L143.5 394.7 L144.5 394.3 L145.5 394.0 L146.5 393.7 L147.5 393.4 L148.5 393.2 L149.5 392.9 L150.5 392.7 L151.5 392.5 L152.5 392.4 L153.5 392.2 L154.5 392.1 L155.5 392.1 L156.5 392.0 L157.5 392.0 L158.5 392.0 L159.5 392.1 L160.5 392.2 L161.5 392.3 L162.5 392.4 L163.5 392.6 L164.5 392.8 L165.5 393.1 L166.5 393.3 L167.5 393.6 L168.5 393.9 L169.5 394.2 L170.5 394.6 L171.5 394.9 L172.5 395.3 L173.5 395.7 L174.5 396.1 L175.5 396.5 L176.5 396.8 L177.5 397.2 L178.5 397.6 L179.5 398.0 L180.5 398.4 L181.5 398.7 L182.5 399.1 L183.5 399.4 L184.5 399.7 L185.5 400.0 L186.5 400.2 L187.5 400.5 L188.5 400.7 L189.5 400.9 L190.5 401.0 L191.5 401.1 L192.5 401.2 L193.5 401.3 L194.5 401.3 L195.5 401.3 L196.5 401.3 L197.5 401.2 L198.5 401.1 L199.5 401.0 L200.5 400.8 L201.5 400.6 L202.5 400.4 L203.5 400.2 L204.5 399.9 L205.5 399.7 L206.5 399.4 L207.5 399.1 L208.5 398.8 L209.5 398.4 L210.5 398.1 L211.5 397.8 L212.5 397.4 L213.5 397.1 L214.5 396.7 L215.5 396.4 L216.5 396.1 L217.5 395.7 L218.5 395.4 L219.5 395.1 L220.5 394.8 L221.5 394.6 L222.5 394.3 L223.5 394.1 L224.5 393.9 L225.5 393.7 L226.5 393.6 L227.5 393.5 L228.5 393.4 L229.5 393.3 L230.5 393.3 L231.5 393.3 L232.5 393.3 L233.5 393.4 L234.5 393.5 L235.5 393.6 L236.5 393.7 L237.5 393.9 L238.5 394.1 L239.5 394.3 L240.5 394.6 L241.5 394.8 L242.5 395.1 L243.5 395.4 L244.5 395.7 L245.5 396.0 L246.5 396.4 L247.5 396.7 L248.5 397.1 L249.5 397.4 L250.5 397.8 L251.5 398.2 L252.5 398.5 L253.5 398.9 L254.5 399.2 L255.5 399.6 L256.5 399.9 L257.5 400.2 L258.5 400.5 L259.5 400.8 L260.5 401.0 L261.5 401.3 L262.5 401.5 L263.5 401.7 L264.5 401.9 L265.5 402.0 L266.5 402.1 L267.5 402.2 L268.5 402.3 L269.5 402.3 L270.5 402.3 L271.5 402.3 L272.5 402.2 L273.5 402.1 L274.5 402.0 L275.5 401.9 L276.5 401.7 L277.5 401.6 L278.5 401.4 L279.5 401.1 L280.5 400.9 L281.5 400.7 L282.5 400.4 L283.5 400.1 L284.5 399.8 L285.5 399.5 L286.5 399.2 L287.5 398.9 L288.5 398.5 L289.5 398.2 L290.5 397.9 L291.5 397.6 L292.5 397.3 L293.5 397.0 L294.5 396.7 L295.5 396.4 L296.5 396.2 L297.5 395.9 L298.5 395.7 L299.5 395.5 L300.5 395.3 L301.5 395.1 L302.5 395.0 L303.5 394.9 L304.5 394.8 L305.5 394.7 L306.5 394.7 L307.5 394.7 L308.5 394.7 L309.5 394.8 L310.5 394.9 L311.5 395.0 L312.5 395.2 L313.5 395.4 L314.5 395.6 L315.5 395.9 L316.5 396.1 L317.5 396.4 L318.5 396.8 L319.5 397.1 L320.5 397.5 L321.5 397.9 L322.5 398.3 L323.5 398.7 L324.5 399.1 L325.5 399.5 L326.5 400.0 L327.5 400.4 L328.5 400.8 L329.5 401.2 L330.5 401.6 L331.5 402.0 L332.5 402.4 L333.5 402.7 L334.5 403.1 L335.5 403.4 L336.5 403.6 L337.5 403.9 L338.5 404.1 L339.5 404.3 L340.5 404.5 L341.5 404.6 L342.5 404.7 L343.5 404.8 L344.5 404.8 L345.5 404.8 L346.5 404.8 L347.5 404.7 L348.5 404.6 L349.5 404.6 L350.5 404.4 L351.5 404.3 L352.5 404.2 L353.5 404.0 L354.5 403.8 L355.5 403.6 L356.5 403.4 L357.5 403.2 L358.5 403.0 L359.5 402.8 L360.5 402.5 L361.5 402.3 L362.5 402.0 L363.5 401.8 L364.5 401.6 L365.5 401.3 L366.5 401.1 L367.5 400.9 L368.5 400.6 L369.5 400.4 L370.5 400.2 L371.5 400.1 L372.5 399.9 L373.5 399.7 L374.5 399.6 L375.5 399.5 L376.5 399.4 L377.5 399.3 L378.5 399.3 L379.5 399.2 L380.5 399.2 L381.5 399.2 L382.5 399.3 L383.5 399.3 L384.5 399.4 L385.5 399.6 L386.5 399.7 L387.5 399.9 L388.5 400.1 L389.5 400.4 L390.5 400.7 L391.5 401.0 L392.5 401.3 L393.5 401.6 L394.5 401.9 L395.5 402.3 L396.5 402.7 L397.5 403.0 L398.5 403.4 L399.5 403.8 L400.5 404.2 L401.5 404.5 L402.5 404.9 L403.5 405.3 L404.5 405.6 L405.5 405.9 L406.5 406.2 L407.5 406.5 L408.5 406.8 L409.5 407.1 L410.5 407.3 L411.5 407.5 L412.5 407.6 L413.5 407.8 L414.5 407.9 L415.5 407.9 L416.5 408.0 L417.5 408.0 L418.5 408.0 L419.5 408.0 L420.5 407.9 L421.5 407.9 L422.5 407.8 L423.5 407.7 L424.5 407.6 L425.5 407.5 L426.5 407.3 L427.5 407.2 L428.5 407.1 L429.5 406.9 L430.5 406.7 L431.5 406.6 L432.5 406.4 L433.5 406.3 L434.5 406.1 L435.5 405.9 L436.5 405.8 L437.5 405.6 L438.5 405.5 L439.5 405.4 L440.5 405.2 L441.5 405.1 L442.5 405.0 L443.5 405.0 L444.5 404.9 L445.5 404.9 L446.5 404.8 L447.5 404.8 L448.5 404.8 L449.5 404.8 L450.5 404.9 L451.5 405.0 L452.5 405.1 L453.5 405.2 L454.5 405.3 L455.5 405.5 L456.5 405.7 L457.5 405.9 L458.5 406.2 L459.5 406.4 L460.5 406.7 L461.5 407.0 L462.5 407.3 L463.5 407.6 L464.5 408.0 L465.5 408.3 L466.5 408.6 L467.5 409.0 L468.5 409.3 L469.5 409.7 L470.5 410.0 L471.5 410.4 L472.5 410.7 L473.5 411.0 L474.5 411.4 L475.5 411.7 L476.5 412.0 L477.5 412.2 L478.5 412.5 L479.5 412.8 L480.5 413.0 L481.5 413.2 L482.5 413.4 L483.5 413.5 L484.5 413.7 L485.5 413.8 L486.5 413.9 L487.5 414.0 L488.5 414.0 L489.5 414.0 L490.5 414.0 L491.5 414.0 L492.5 413.9 L493.5 413.9 L494.5 413.9 L495.5 413.8 L496.5 413.7 L497.5 413.7 L498.5 413.6 L499.5 413.5 L500.5 413.4 L501.5 413.3 L502.5 413.3 L503.5 413.2 L504.5 413.1 L505.5 413.0 L506.5 412.9 L507.5 412.9 L508.5 412.8 L509.5 412.8 L510.5 412.7 L511.5 412.7 L512.5 412.7 L513.5 412.7 L514.5 412.7 L515.5 412.7 L516.5 412.8 L517.5 412.9 L518.5 413.0 L519.5 413.1 L520.5 413.2 L521.5 413.3 L522.5 413.5 L523.5 413.6 L524.5 413.8 L525.5 414.0 L526.5 414.2 L527.5 414.5 L528.5 414.7 L529.5 415.0 L530.5 415.2 L531.5 415.5 L532.5 415.8 L533.5 416.1 L534.5 416.4 L535.5 416.7 L536.5 417.0 L537.5 417.3 L538.5 417.7 L539.5 418.0 L540.5 418.3 L541.5 418.6 L542.5 418.9 L543.5 419.3 L544.5 419.6 L545.5 419.9 L546.5 420.2 L547.5 420.5 L548.5 420.8 L549.5 421.1 L550.5 421.4 L551.5 421.6 L552.5 421.9 L553.5 422.2 L554.5 422.4 L555.5 422.6 L556.5 422.8 L557.5 423.0 L558.5 423.2 L559.5 423.3 L560.5 423.5 L561.5 423.6 L562.5 423.7 L563.5 423.8 L564.5 423.9 L565.5 423.9 L566.5 424.0 L567.5 424.0 L568.0 424.0" stroke="#f00" stroke-width="2.4" stroke-dasharray="7.6 3.2" stroke-dashoffset="0"/>
<path d="M85.5 328.8 L86.5 327.3 L87.5 325.6 L88.5 323.7 L89.5 321.7 L90.5 319.5 L91.5 317.2 L92.5 314.8 L93.5 312.3 L94.5 309.8 L95.5 307.2 L96.5 304.5 L97.5 301.8 L98.5 299.1 L99.5 296.5 L100.5 293.8 L101.5 291.2 L102.5 288.7 L103.5 286.2 L104.5 283.8 L105.5 281.6 L106.5 279.4 L107.5 277.4 L108.5 275.6 L109.5 273.9 L110.5 272.4 L111.5 271.1 L112.5 270.0 L113.5 269.1 L114.5 268.4 L115.5 267.9 L116.5 267.6 L117.5 267.5 L118.5 267.7 L119.5 268.0 L120.5 268.6 L121.5 269.4 L122.5 270.4 L123.5 271.6 L124.5 273.0 L125.5 274.5 L126.5 276.3 L127.5 278.1 L128.5 280.2 L129.5 282.4 L130.5 284.6 L131.5 287.0 L132.5 289.5 L133.5 292.1 L134.5 294.7 L135.5 297.3 L136.5 300.0 L137.5 302.7 L138.5 305.3 L139.5 307.9 L140.5 310.5 L141.5 313.0 L142.5 315.4 L143.5 317.8 L144.5 320.0 L145.5 322.1 L146.5 324.0 L147.5 325.8 L148.5 327.4 L149.5 328.8 L150.5 330.1 L151.5 331.1 L152.5 332.0 L153.5 332.6 L154.5 333.1 L155.5 333.3 L156.5 333.3 L157.5 333.0 L158.5 332.6 L159.5 331.9 L160.5 331.0 L161.5 329.8 L162.5 328.5 L163.5 326.9 L164.5 325.2 L165.5 323.2 L166.5 321.2 L167.5 318.9 L168.5 316.5 L169.5 314.0 L170.5 311.4 L171.5 308.8 L172.5 306.0 L173.5 303.2 L174.5 300.4 L175.5 297.5 L176.5 294.7 L177.5 291.9 L178.5 289.1 L179.5 286.5 L180.5 283.9 L181.5 281.4 L182.5 279.0 L183.5 276.7 L184.5 274.7 L185.5 272.7 L186.5 271.0 L187.5 269.4 L188.5 268.1 L189.5 266.9 L190.5 266.0 L191.5 265.3 L192.5 264.9 L193.5 264.6 L194.5 264.6 L195.5 264.9 L196.5 265.3 L197.5 266.0 L198.5 266.9 L199.5 268.0 L200.5 269.4 L201.5 270.9 L202.5 272.6 L203.5 274.5 L204.5 276.6 L205.5 278.8 L206.5 281.1 L207.5 283.6 L208.5 286.1 L209.5 288.8 L210.5 291.5 L211.5 294.2 L212.5 297.0 L213.5 299.7 L214.5 302.5 L215.5 305.2 L216.5 307.9 L217.5 310.5 L218.5 313.0 L219.5 315.4 L220.5 317.6 L221.5 319.8 L222.5 321.7 L223.5 323.6 L224.5 325.2 L225.5 326.6 L226.5 327.8 L227.5 328.9 L228.5 329.7 L229.5 330.2 L230.5 330.6 L231.5 330.7 L232.5 330.6 L233.5 330.2 L234.5 329.7 L235.5 328.9 L236.5 327.9 L237.5 326.7 L238.5 325.2 L239.5 323.6 L240.5 321.8 L241.5 319.9 L242.5 317.8 L243.5 315.5 L244.5 313.1 L245.5 310.6 L246.5 308.0 L247.5 305.4 L248.5 302.6 L249.5 299.8 L250.5 297.1 L251.5 294.2 L252.5 291.5 L253.5 288.7 L254.5 286.0 L255.5 283.4 L256.5 280.8 L257.5 278.4 L258.5 276.0 L259.5 273.9 L260.5 271.8 L261.5 269.9 L262.5 268.2 L263.5 266.7 L264.5 265.4 L265.5 264.3 L266.5 263.4 L267.5 262.7 L268.5 262.3 L269.5 262.0 L270.5 262.0 L271.5 262.3 L272.5 262.7 L273.5 263.4 L274.5 264.2 L275.5 265.3 L276.5 266.6 L277.5 268.1 L278.5 269.8 L279.5 271.6 L280.5 273.6 L281.5 275.7 L282.5 278.0 L283.5 280.4 L284.5 282.8 L285.5 285.4 L286.5 288.0 L287.5 290.6 L288.5 293.3 L289.5 296.0 L290.5 298.6 L291.5 301.2 L292.5 303.8 L293.5 306.3 L294.5 308.7 L295.5 311.0 L296.5 313.2 L297.5 315.2 L298.5 317.1 L299.5 318.8 L300.5 320.3 L301.5 321.7 L302.5 322.8 L303.5 323.8 L304.5 324.5 L305.5 325.0 L306.5 325.3 L307.5 325.4 L308.5 325.2 L309.5 324.8 L310.5 324.1 L311.5 323.2 L312.5 322.1 L313.5 320.7 L314.5 319.2 L315.5 317.4 L316.5 315.4 L317.5 313.3 L318.5 311.0 L319.5 308.6 L320.5 306.0 L321.5 303.3 L322.5 300.6 L323.5 297.7 L324.5 294.9 L325.5 292.0 L326.5 289.1 L327.5 286.2 L328.5 283.4 L329.5 280.6 L330.5 277.9 L331.5 275.3 L332.5 272.8 L333.5 270.5 L334.5 268.3 L335.5 266.3 L336.5 264.4 L337.5 262.8 L338.5 261.4 L339.5 260.2 L340.5 259.2 L341.5 258.5 L342.5 258.0 L343.5 257.7 L344.5 257.7 L345.5 258.0 L346.5 258.5 L347.5 259.2 L348.5 260.1 L349.5 261.3 L350.5 262.7 L351.5 264.3 L352.5 266.1 L353.5 268.1 L354.5 270.2 L355.5 272.5 L356.5 274.9 L357.5 277.4 L358.5 280.1 L359.5 282.7 L360.5 285.4 L361.5 288.2 L362.5 290.9 L363.5 293.7 L364.5 296.4 L365.5 299.0 L366.5 301.5 L367.5 304.0 L368.5 306.3 L369.5 308.5 L370.5 310.5 L371.5 312.3 L372.5 314.0 L373.5 315.5 L374.5 316.7 L375.5 317.7 L376.5 318.5 L377.5 319.1 L378.5 319.4 L379.5 319.5 L380.5 319.3 L381.5 318.9 L382.5 318.3 L383.5 317.4 L384.5 316.3 L385.5 315.0 L386.5 313.4 L387.5 311.7 L388.5 309.8 L389.5 307.7 L390.5 305.4 L391.5 303.0 L392.5 300.5 L393.5 297.9 L394.5 295.2 L395.5 292.4 L396.5 289.6 L397.5 286.7 L398.5 283.8 L399.5 280.9 L400.5 278.1 L401.5 275.3 L402.5 272.6 L403.5 270.0 L404.5 267.5 L405.5 265.1 L406.5 262.8 L407.5 260.7 L408.5 258.8 L409.5 257.1 L410.5 255.5 L411.5 254.2 L412.5 253.1 L413.5 252.2 L414.5 251.6 L415.5 251.2 L416.5 251.0 L417.5 251.1 L418.5 251.4 L419.5 251.9 L420.5 252.7 L421.5 253.6 L422.5 254.8 L423.5 256.2 L424.5 257.7 L425.5 259.5 L426.5 261.4 L427.5 263.4 L428.5 265.6 L429.5 267.9 L430.5 270.3 L431.5 272.7 L432.5 275.2 L433.5 277.7 L434.5 280.3 L435.5 282.8 L436.5 285.3 L437.5 287.7 L438.5 290.1 L439.5 292.4 L440.5 294.6 L441.5 296.6 L442.5 298.5 L443.5 300.3 L444.5 301.8 L445.5 303.2 L446.5 304.4 L447.5 305.3 L448.5 306.1 L449.5 306.6 L450.5 306.9 L451.5 307.0 L452.5 306.8 L453.5 306.4 L454.5 305.7 L455.5 304.7 L456.5 303.6 L457.5 302.2 L458.5 300.5 L459.5 298.7 L460.5 296.7 L461.5 294.4 L462.5 292.1 L463.5 289.6 L464.5 286.9 L465.5 284.2 L466.5 281.4 L467.5 278.5 L468.5 275.6 L469.5 272.6 L470.5 269.7 L471.5 266.8 L472.5 264.0 L473.5 261.2 L474.5 258.5 L475.5 256.0 L476.5 253.6 L477.5 251.3 L478.5 249.2 L479.5 247.3 L480.5 245.6 L481.5 244.1 L482.5 242.9 L483.5 241.9 L484.5 241.1 L485.5 240.6 L486.5 240.3 L487.5 240.3 L488.5 240.6 L489.5 241.1 L490.5 241.8 L491.5 242.8 L492.5 244.0 L493.5 245.4 L494.5 247.0 L495.5 248.8 L496.5 250.8 L497.5 252.9 L498.5 255.0 L499.5 257.3 L500.5 259.7 L501.5 262.0 L502.5 264.4 L503.5 266.8 L504.5 269.1 L505.5 271.3 L506.5 273.5 L507.5 275.5 L508.5 277.4 L509.5 279.1 L510.5 280.7 L511.5 282.0 L512.5 283.1 L513.5 284.0 L514.5 284.6 L515.5 285.0 L516.5 285.2 L517.5 285.1 L518.5 284.8 L519.5 284.2 L520.5 283.4 L521.5 282.4 L522.5 281.1 L523.5 279.7 L524.5 278.0 L525.5 276.2 L526.5 274.2 L527.5 272.0 L528.5 269.8 L529.5 267.3 L530.5 264.8 L531.5 262.2 L532.5 259.6 L533.5 256.9 L534.5 254.2 L535.5 251.4 L536.5 248.8 L537.5 246.1 L538.5 243.5 L539.5 241.0 L540.5 238.6 L541.5 236.3 L542.5 234.2 L543.5 232.2 L544.5 230.4 L545.5 228.8 L546.5 227.3 L547.5 226.1 L548.5 225.1 L549.5 224.3 L550.5 223.8 L551.5 223.5 L552.5 223.4 L553.5 223.5 L554.5 223.8 L555.5 224.2 L556.5 224.8 L557.5 225.5 L558.5 226.4 L559.5 227.4 L560.5 228.6 L561.5 229.9 L562.5 231.2 L563.5 232.7 L564.5 234.3 L565.5 235.9 L566.5 237.6 L567.5 239.4 L568.0 240.3" stroke="#f00" stroke-width="7" stroke-dasharray="17.5 7" stroke-dashoffset="-1"/>
<path d="M85.5 91.8 L86.5 91.2 L87.5 90.6 L88.5 89.9 L89.5 89.3 L90.5 88.6 L91.5 87.9 L92.5 87.1 L93.5 86.4 L94.5 85.7 L95.5 84.9 L96.5 84.2 L97.5 83.5 L98.5 82.7 L99.5 82.0 L100.5 81.3 L101.5 80.6 L102.5 79.9 L103.5 79.2 L104.5 78.6 L105.5 78.0 L106.5 77.4 L107.5 76.9 L108.5 76.3 L109.5 75.9 L110.5 75.4 L111.5 75.0 L112.5 74.7 L113.5 74.4 L114.5 74.1 L115.5 73.9 L116.5 73.7 L117.5 73.6 L118.5 73.5 L119.5 73.5 L120.5 73.6 L121.5 73.7 L122.5 74.0 L123.5 74.4 L124.5 74.9 L125.5 75.5 L126.5 76.2 L127.5 77.0 L128.5 77.9 L129.5 78.8 L130.5 79.8 L131.5 80.9 L132.5 82.1 L133.5 83.2 L134.5 84.4 L135.5 85.6 L136.5 86.9 L137.5 88.1 L138.5 89.3 L139.5 90.5 L140.5 91.7 L141.5 92.8 L142.5 93.9 L143.5 94.9 L144.5 95.8 L145.5 96.7 L146.5 97.4 L147.5 98.1 L148.5 98.7 L149.5 99.2 L150.5 99.6 L151.5 99.8 L152.5 100.0 L153.5 100.0 L154.5 99.9 L155.5 99.7 L156.5 99.5 L157.5 99.1 L158.5 98.6 L159.5 98.0 L160.5 97.3 L161.5 96.6 L162.5 95.7 L163.5 94.8 L164.5 93.9 L165.5 92.8 L166.5 91.8 L167.5 90.7 L168.5 89.5 L169.5 88.4 L170.5 87.2 L171.5 86.0 L172.5 84.8 L173.5 83.7 L174.5 82.6 L175.5 81.5 L176.5 80.4 L177.5 79.4 L178.5 78.5 L179.5 77.7 L180.5 76.9 L181.5 76.2 L182.5 75.6 L183.5 75.1 L184.5 74.6 L185.5 74.3 L186.5 74.1 L187.5 74.0 L188.5 74.0 L189.5 74.1 L190.5 74.4 L191.5 74.7 L192.5 75.2 L193.5 75.7 L194.5 76.4 L195.5 77.1 L196.5 78.0 L197.5 78.9 L198.5 80.0 L199.5 81.0 L200.5 82.2 L201.5 83.4 L202.5 84.7 L203.5 86.0 L204.5 87.3 L205.5 88.7 L206.5 90.0 L207.5 91.4 L208.5 92.8 L209.5 94.1 L210.5 95.4 L211.5 96.7 L212.5 97.9 L213.5 99.1 L214.5 100.2 L215.5 101.3 L216.5 102.2 L217.5 103.1 L218.5 103.9 L219.5 104.6 L220.5 105.2 L221.5 105.7 L222.5 106.1 L223.5 106.3 L224.5 106.5 L225.5 106.5 L226.5 106.4 L227.5 106.2 L228.5 105.9 L229.5 105.5 L230.5 105.0 L231.5 104.4 L232.5 103.7 L233.5 102.9 L234.5 102.0 L235.5 101.1 L236.5 100.0 L237.5 98.9 L238.5 97.7 L239.5 96.5 L240.5 95.3 L241.5 94.0 L242.5 92.7 L243.5 91.3 L244.5 90.0 L245.5 88.6 L246.5 87.3 L247.5 86.0 L248.5 84.7 L249.5 83.5 L250.5 82.3 L251.5 81.1 L252.5 80.1 L253.5 79.0 L254.5 78.1 L255.5 77.3 L256.5 76.5 L257.5 75.8 L258.5 75.3 L259.5 74.8 L260.5 74.4 L261.5 74.2 L262.5 74.0 L263.5 74.0 L264.5 74.1 L265.5 74.3 L266.5 74.6 L267.5 75.0 L268.5 75.6 L269.5 76.2 L270.5 77.0 L271.5 77.9 L272.5 78.8 L273.5 79.9 L274.5 81.0 L275.5 82.2 L276.5 83.5 L277.5 84.9 L278.5 86.3 L279.5 87.7 L280.5 89.2 L281.5 90.7 L282.5 92.2 L283.5 93.8 L284.5 95.3 L285.5 96.8 L286.5 98.4 L287.5 99.9 L288.5 101.3 L289.5 102.7 L290.5 104.1 L291.5 105.4 L292.5 106.6 L293.5 107.8 L294.5 108.9 L295.5 109.8 L296.5 110.7 L297.5 111.5 L298.5 112.2 L299.5 112.8 L300.5 113.3 L301.5 113.6 L302.5 113.9 L303.5 114.0 L304.5 114.0 L305.5 113.9 L306.5 113.6 L307.5 113.2 L308.5 112.7 L309.5 112.1 L310.5 111.4 L311.5 110.5 L312.5 109.6 L313.5 108.5 L314.5 107.4 L315.5 106.1 L316.5 104.8 L317.5 103.4 L318.5 102.0 L319.5 100.5 L320.5 99.0 L321.5 97.4 L322.5 95.8 L323.5 94.2 L324.5 92.6 L325.5 91.1 L326.5 89.5 L327.5 87.9 L328.5 86.4 L329.5 85.0 L330.5 83.6 L331.5 82.3 L332.5 81.0 L333.5 79.8 L334.5 78.7 L335.5 77.8 L336.5 76.9 L337.5 76.1 L338.5 75.5 L339.5 74.9 L340.5 74.5 L341.5 74.2 L342.5 74.0 L343.5 74.0 L344.5 74.1 L345.5 74.3 L346.5 74.7 L347.5 75.1 L348.5 75.7 L349.5 76.4 L350.5 77.3 L351.5 78.2 L352.5 79.2 L353.5 80.4 L354.5 81.6 L355.5 82.9 L356.5 84.3 L357.5 85.7 L358.5 87.2 L359.5 88.8 L360.5 90.4 L361.5 92.0 L362.5 93.6 L363.5 95.2 L364.5 96.9 L365.5 98.5 L366.5 100.1 L367.5 101.6 L368.5 103.1 L369.5 104.6 L370.5 106.0 L371.5 107.3 L372.5 108.6 L373.5 109.7 L374.5 110.8 L375.5 111.8 L376.5 112.6 L377.5 113.4 L378.5 114.0 L379.5 114.5 L380.5 114.9 L381.5 115.2 L382.5 115.3 L383.5 115.3 L384.5 115.2 L385.5 114.9 L386.5 114.6 L387.5 114.1 L388.5 113.6 L389.5 112.9 L390.5 112.1 L391.5 111.3 L392.5 110.3 L393.5 109.3 L394.5 108.1 L395.5 106.9 L396.5 105.6 L397.5 104.3 L398.5 102.9 L399.5 101.5 L400.5 100.0 L401.5 98.5 L402.5 97.0 L403.5 95.4 L404.5 93.9 L405.5 92.3 L406.5 90.8 L407.5 89.3 L408.5 87.8 L409.5 86.3 L410.5 84.9 L411.5 83.5 L412.5 82.3 L413.5 81.0 L414.5 79.9 L415.5 78.8 L416.5 77.8 L417.5 76.9 L418.5 76.1 L419.5 75.4 L420.5 74.8 L421.5 74.3 L422.5 74.0 L423.5 73.7 L424.5 73.5 L425.5 73.5 L426.5 73.6 L427.5 73.8 L428.5 74.1 L429.5 74.6 L430.5 75.1 L431.5 75.8 L432.5 76.6 L433.5 77.5 L434.5 78.5 L435.5 79.6 L436.5 80.7 L437.5 82.0 L438.5 83.3 L439.5 84.7 L440.5 86.1 L441.5 87.6 L442.5 89.2 L443.5 90.7 L444.5 92.3 L445.5 93.9 L446.5 95.6 L447.5 97.2 L448.5 98.8 L449.5 100.3 L450.5 101.9 L451.5 103.4 L452.5 104.8 L453.5 106.2 L454.5 107.5 L455.5 108.8 L456.5 109.9 L457.5 111.0 L458.5 112.0 L459.5 112.9 L460.5 113.7 L461.5 114.4 L462.5 114.9 L463.5 115.4 L464.5 115.7 L465.5 115.9 L466.5 116.0 L467.5 116.0 L468.5 115.8 L469.5 115.6 L470.5 115.3 L471.5 114.8 L472.5 114.3 L473.5 113.7 L474.5 113.0 L475.5 112.2 L476.5 111.3 L477.5 110.3 L478.5 109.2 L479.5 108.1 L480.5 107.0 L481.5 105.7 L482.5 104.4 L483.5 103.1 L484.5 101.7 L485.5 100.3 L486.5 98.8 L487.5 97.4 L488.5 95.9 L489.5 94.4 L490.5 92.9 L491.5 91.4 L492.5 90.0 L493.5 88.5 L494.5 87.1 L495.5 85.7 L496.5 84.4 L497.5 83.1 L498.5 81.8 L499.5 80.7 L500.5 79.6 L501.5 78.5 L502.5 77.5 L503.5 76.6 L504.5 75.8 L505.5 75.1 L506.5 74.5 L507.5 74.0 L508.5 73.5 L509.5 73.2 L510.5 73.0 L511.5 72.8 L512.5 72.8 L513.5 72.9 L514.5 73.1 L515.5 73.4 L516.5 73.8 L517.5 74.4 L518.5 75.0 L519.5 75.8 L520.5 76.7 L521.5 77.6 L522.5 78.7 L523.5 79.8 L524.5 81.1 L525.5 82.4 L526.5 83.7 L527.5 85.2 L528.5 86.7 L529.5 88.2 L530.5 89.8 L531.5 91.4 L532.5 93.0 L533.5 94.6 L534.5 96.3 L535.5 97.9 L536.5 99.5 L537.5 101.1 L538.5 102.7 L539.5 104.2 L540.5 105.7 L541.5 107.2 L542.5 108.5 L543.5 109.8 L544.5 111.1 L545.5 112.2 L546.5 113.3 L547.5 114.2 L548.5 115.1 L549.5 115.9 L550.5 116.5 L551.5 117.1 L552.5 117.5 L553.5 117.8 L554.5 118.0 L555.5 118.1 L556.5 118.0 L557.5 117.7 L558.5 117.1 L559.5 116.3 L560.5 115.2 L561.5 114.0 L562.5 112.5 L563.5 110.8 L564.5 109.0 L565.5 107.0 L566.5 104.9 L567.5 102.7 L568.0 101.5" stroke="#000" stroke-width="6" stroke-dasharray="6 6.5" stroke-dashoffset="0.2"/>
<path d="M85.5 432.7 L134.5 432.7" stroke="#000" stroke-width="2.3" stroke-dasharray="2 1"/>
<path d="M135.0 431.7 L299.0 431.6 L300.5 430.9" stroke="#000" stroke-width="2.3" stroke-dasharray="2.6 1.9"/>
<path d="M300.5 430.9 L311.0 430.9 L313.0 431.6 L372.0 431.6 L374.0 430.9 L395.0 430.9 L397.0 431.6 L534.0 431.6 L536.0 430.6 L568.0 430.6" stroke="#000" stroke-width="2.3" stroke-dasharray="2.7 2.8"/>
</g>
<text class="tk" transform="translate(80.5 443.5) scale(1 1.045)" text-anchor="end">0</text>
<text class="tk" transform="translate(80.5 359.3) scale(1 1.045)" text-anchor="end">0.2</text>
<text class="tk" transform="translate(80.5 275.1) scale(1 1.045)" text-anchor="end">0.4</text>
<text class="tk" transform="translate(80.5 190.9) scale(1 1.045)" text-anchor="end">0.6</text>
<text class="tk" transform="translate(80.5 106.7) scale(1 1.045)" text-anchor="end">0.8</text>
<path d="M374 0L710 1409L580 1409Q360 1224 45 1067L8 881Q225 965 418 1080L159 0Z" fill="#000" transform="translate(67.90 22.50) scale(0.01348 -0.01408)"/>
<text class="yl" transform="translate(25.3 223.8) rotate(-90) scale(1 1.045)" text-anchor="middle">R &amp; T</text>
<text class="pl" transform="translate(102.5 53.8) scale(1 1)">(a)</text>
</g>
<g id="panel-b">
<rect x="86.5" y="470.7" width="477.3" height="420.1" fill="none" stroke="#111" stroke-width="1.6"/>
<path d="M133.5 470.7v5.0 M133.5 890.8v-5.0 M276.7 470.7v5.0 M276.7 890.8v-5.0 M419.9 470.7v5.0 M419.9 890.8v-5.0 M86.5 806.2h5.0 M563.8 806.2h-5.0 M86.5 722.2h5.0 M563.8 722.2h-5.0 M86.5 638.1h5.0 M563.8 638.1h-5.0 M86.5 554.1h5.0 M563.8 554.1h-5.0" stroke="#000" stroke-width="1.4" fill="none"/>
<clipPath id="clip-b"><rect x="85.6" y="470.7" width="479.1" height="421"/></clipPath>
<g clip-path="url(#clip-b)" fill="none" stroke-linejoin="round">
<path d="M85.5 809.3 L86.0 809.2 L86.5 809.1 L87.0 809.0 L87.5 808.9 L88.0 808.8 L88.5 808.7 L89.0 808.7 L89.5 808.6 L90.0 808.5 L90.5 808.4 L91.0 808.4 L91.5 808.3 L92.0 808.2 L92.5 808.2 L93.0 808.1 L93.5 808.1 L94.0 808.1 L94.5 808.0 L95.0 808.0 L95.5 808.1 L96.0 808.2 L96.5 808.3 L97.0 808.4 L97.5 808.6 L98.0 808.7 L98.5 808.9 L99.0 809.1 L99.5 809.3 L100.0 809.5 L100.5 809.7 L101.0 809.9 L101.5 810.2 L102.0 810.4 L102.5 810.6 L103.0 810.9 L103.5 811.1 L104.0 811.4 L104.5 811.6 L105.0 811.9 L105.5 812.1 L106.0 812.4 L106.5 812.7 L107.0 812.9 L107.5 813.2 L108.0 813.4 L108.5 813.7 L109.0 813.9 L109.5 814.2 L110.0 814.4 L110.5 814.7 L111.0 814.9 L111.5 815.1 L112.0 815.4 L112.5 815.6 L113.0 815.8 L113.5 816.0 L114.0 816.2 L114.5 816.4 L115.0 816.6 L115.5 816.8 L116.0 817.0 L116.5 817.2 L117.0 817.3 L117.5 817.5 L118.0 817.6 L118.5 817.8 L119.0 817.9 L119.5 818.0 L120.0 818.1 L120.5 818.2 L121.0 818.3 L121.5 818.4 L122.0 818.5 L122.5 818.5 L123.0 818.6 L123.5 818.6 L124.0 818.7 L124.5 818.7 L125.0 818.7 L125.5 818.7 L126.0 818.7 L126.5 818.7 L127.0 818.6 L127.5 818.6 L128.0 818.5 L128.5 818.5 L129.0 818.4 L129.5 818.3 L130.0 818.2 L130.5 818.1 L131.0 818.0 L131.5 817.9 L132.0 817.8 L132.5 817.6 L133.0 817.5 L133.5 817.3 L134.0 817.1 L134.5 817.0 L135.0 816.8 L135.5 816.6 L136.0 816.4 L136.5 816.2 L137.0 815.9 L137.5 815.7 L138.0 815.5 L138.5 815.3 L139.0 815.0 L139.5 814.8 L140.0 814.5 L140.5 814.2 L141.0 814.0 L141.5 813.7 L142.0 813.4 L142.5 813.2 L143.0 812.9 L143.5 812.6 L144.0 812.3 L144.5 812.0 L145.0 811.7 L145.5 811.4 L146.0 811.2 L146.5 810.9 L147.0 810.6 L147.5 810.3 L148.0 810.0 L148.5 809.7 L149.0 809.4 L149.5 809.1 L150.0 808.9 L150.5 808.6 L151.0 808.3 L151.5 808.0 L152.0 807.8 L152.5 807.5 L153.0 807.3 L153.5 807.0 L154.0 806.8 L154.5 806.6 L155.0 806.4 L155.5 806.2 L156.0 806.0 L156.5 805.8 L157.0 805.7 L157.5 805.5 L158.0 805.4 L158.5 805.3 L159.0 805.3 L159.5 805.4 L160.0 805.5 L160.5 805.6 L161.0 805.7 L161.5 805.8 L162.0 806.0 L162.5 806.1 L163.0 806.3 L163.5 806.5 L164.0 806.7 L164.5 806.8 L165.0 807.0 L165.5 807.2 L166.0 807.4 L166.5 807.6 L167.0 807.8 L167.5 808.0 L168.0 808.3 L168.5 808.5 L169.0 808.7 L169.5 808.9 L170.0 809.1 L170.5 809.4 L171.0 809.6 L171.5 809.8 L172.0 810.0 L172.5 810.3 L173.0 810.5 L173.5 810.7 L174.0 810.9 L174.5 811.1 L175.0 811.4 L175.5 811.6 L176.0 811.8 L176.5 812.0 L177.0 812.2 L177.5 812.4 L178.0 812.6 L178.5 812.8 L179.0 813.0 L179.5 813.2 L180.0 813.4 L180.5 813.6 L181.0 813.7 L181.5 813.9 L182.0 814.1 L182.5 814.2 L183.0 814.4 L183.5 814.5 L184.0 814.7 L184.5 814.8 L185.0 814.9 L185.5 815.1 L186.0 815.2 L186.5 815.3 L187.0 815.4 L187.5 815.5 L188.0 815.6 L188.5 815.6 L189.0 815.7 L189.5 815.8 L190.0 815.8 L190.5 815.9 L191.0 815.9 L191.5 815.9 L192.0 816.0 L192.5 816.0 L193.0 816.0 L193.5 816.0 L194.0 816.0 L194.5 816.0 L195.0 815.9 L195.5 815.9 L196.0 815.9 L196.5 815.8 L197.0 815.7 L197.5 815.7 L198.0 815.6 L198.5 815.5 L199.0 815.4 L199.5 815.2 L200.0 815.1 L200.5 815.0 L201.0 814.8 L201.5 814.7 L202.0 814.5 L202.5 814.4 L203.0 814.2 L203.5 814.0 L204.0 813.8 L204.5 813.6 L205.0 813.4 L205.5 813.2 L206.0 813.0 L206.5 812.8 L207.0 812.6 L207.5 812.3 L208.0 812.1 L208.5 811.9 L209.0 811.6 L209.5 811.4 L210.0 811.1 L210.5 810.9 L211.0 810.6 L211.5 810.4 L212.0 810.1 L212.5 809.9 L213.0 809.6 L213.5 809.3 L214.0 809.1 L214.5 808.8 L215.0 808.5 L215.5 808.3 L216.0 808.0 L216.5 807.8 L217.0 807.5 L217.5 807.3 L218.0 807.0 L218.5 806.8 L219.0 806.6 L219.5 806.3 L220.0 806.1 L220.5 805.9 L221.0 805.7 L221.5 805.5 L222.0 805.3 L222.5 805.2 L223.0 805.0 L223.5 804.8 L224.0 804.7 L224.5 804.6 L225.0 804.5 L225.5 804.5 L226.0 804.6 L226.5 804.6 L227.0 804.7 L227.5 804.9 L228.0 805.0 L228.5 805.1 L229.0 805.3 L229.5 805.4 L230.0 805.6 L230.5 805.7 L231.0 805.9 L231.5 806.1 L232.0 806.2 L232.5 806.4 L233.0 806.6 L233.5 806.8 L234.0 807.0 L234.5 807.2 L235.0 807.4 L235.5 807.6 L236.0 807.8 L236.5 808.0 L237.0 808.2 L237.5 808.4 L238.0 808.6 L238.5 808.8 L239.0 809.1 L239.5 809.3 L240.0 809.5 L240.5 809.7 L241.0 809.9 L241.5 810.1 L242.0 810.3 L242.5 810.5 L243.0 810.7 L243.5 810.9 L244.0 811.1 L244.5 811.3 L245.0 811.5 L245.5 811.6 L246.0 811.8 L246.5 812.0 L247.0 812.2 L247.5 812.3 L248.0 812.5 L248.5 812.7 L249.0 812.8 L249.5 813.0 L250.0 813.1 L250.5 813.3 L251.0 813.4 L251.5 813.5 L252.0 813.6 L252.5 813.8 L253.0 813.9 L253.5 814.0 L254.0 814.1 L254.5 814.2 L255.0 814.2 L255.5 814.3 L256.0 814.4 L256.5 814.4 L257.0 814.5 L257.5 814.6 L258.0 814.6 L258.5 814.6 L259.0 814.7 L259.5 814.7 L260.0 814.7 L260.5 814.7 L261.0 814.7 L261.5 814.7 L262.0 814.7 L262.5 814.6 L263.0 814.6 L263.5 814.6 L264.0 814.5 L264.5 814.4 L265.0 814.4 L265.5 814.3 L266.0 814.2 L266.5 814.1 L267.0 814.0 L267.5 813.9 L268.0 813.7 L268.5 813.6 L269.0 813.5 L269.5 813.3 L270.0 813.2 L270.5 813.0 L271.0 812.8 L271.5 812.7 L272.0 812.5 L272.5 812.3 L273.0 812.1 L273.5 811.9 L274.0 811.7 L274.5 811.5 L275.0 811.3 L275.5 811.0 L276.0 810.8 L276.5 810.6 L277.0 810.3 L277.5 810.1 L278.0 809.9 L278.5 809.6 L279.0 809.4 L279.5 809.1 L280.0 808.9 L280.5 808.7 L281.0 808.4 L281.5 808.2 L282.0 807.9 L282.5 807.7 L283.0 807.4 L283.5 807.2 L284.0 806.9 L284.5 806.7 L285.0 806.4 L285.5 806.2 L286.0 806.0 L286.5 805.8 L287.0 805.5 L287.5 805.3 L288.0 805.1 L288.5 804.9 L289.0 804.7 L289.5 804.5 L290.0 804.3 L290.5 804.2 L291.0 804.0 L291.5 803.9 L292.0 803.8 L292.5 803.6 L293.0 803.6 L293.5 803.5 L294.0 803.5 L294.5 803.6 L295.0 803.7 L295.5 803.8 L296.0 803.9 L296.5 804.0 L297.0 804.2 L297.5 804.3 L298.0 804.5 L298.5 804.6 L299.0 804.8 L299.5 804.9 L300.0 805.1 L300.5 805.3 L301.0 805.5 L301.5 805.7 L302.0 805.8 L302.5 806.0 L303.0 806.2 L303.5 806.4 L304.0 806.6 L304.5 806.8 L305.0 807.0 L305.5 807.2 L306.0 807.4 L306.5 807.6 L307.0 807.8 L307.5 808.0 L308.0 808.2 L308.5 808.4 L309.0 808.6 L309.5 808.8 L310.0 809.0 L310.5 809.2 L311.0 809.4 L311.5 809.6 L312.0 809.8 L312.5 810.0 L313.0 810.2 L313.5 810.3 L314.0 810.5 L314.5 810.7 L315.0 810.8 L315.5 811.0 L316.0 811.2 L316.5 811.3 L317.0 811.5 L317.5 811.6 L318.0 811.8 L318.5 811.9 L319.0 812.0 L319.5 812.1 L320.0 812.3 L320.5 812.4 L321.0 812.5 L321.5 812.6 L322.0 812.7 L322.5 812.8 L323.0 812.8 L323.5 812.9 L324.0 813.0 L324.5 813.1 L325.0 813.1 L325.5 813.2 L326.0 813.2 L326.5 813.2 L327.0 813.3 L327.5 813.3 L328.0 813.3 L328.5 813.3 L329.0 813.3 L329.5 813.3 L330.0 813.3 L330.5 813.2 L331.0 813.2 L331.5 813.2 L332.0 813.1 L332.5 813.1 L333.0 813.0 L333.5 812.9 L334.0 812.9 L334.5 812.8 L335.0 812.7 L335.5 812.6 L336.0 812.5 L336.5 812.4 L337.0 812.3 L337.5 812.1 L338.0 812.0 L338.5 811.9 L339.0 811.7 L339.5 811.6 L340.0 811.4 L340.5 811.2 L341.0 811.1 L341.5 810.9 L342.0 810.7 L342.5 810.5 L343.0 810.4 L343.5 810.2 L344.0 810.0 L344.5 809.8 L345.0 809.6 L345.5 809.4 L346.0 809.2 L346.5 809.0 L347.0 808.8 L347.5 808.6 L348.0 808.3 L348.5 808.1 L349.0 807.9 L349.5 807.7 L350.0 807.5 L350.5 807.3 L351.0 807.1 L351.5 806.9 L352.0 806.6 L352.5 806.4 L353.0 806.2 L353.5 806.0 L354.0 805.8 L354.5 805.6 L355.0 805.4 L355.5 805.2 L356.0 805.1 L356.5 804.9 L357.0 804.7 L357.5 804.5 L358.0 804.4 L358.5 804.2 L359.0 804.1 L359.5 803.9 L360.0 803.8 L360.5 803.7 L361.0 803.6 L361.5 803.5 L362.0 803.5 L362.5 803.5 L363.0 803.6 L363.5 803.7 L364.0 803.8 L364.5 803.9 L365.0 804.0 L365.5 804.2 L366.0 804.3 L366.5 804.5 L367.0 804.6 L367.5 804.8 L368.0 804.9 L368.5 805.1 L369.0 805.3 L369.5 805.5 L370.0 805.6 L370.5 805.8 L371.0 806.0 L371.5 806.2 L372.0 806.4 L372.5 806.6 L373.0 806.8 L373.5 807.0 L374.0 807.2 L374.5 807.4 L375.0 807.6 L375.5 807.8 L376.0 808.0 L376.5 808.2 L377.0 808.4 L377.5 808.6 L378.0 808.8 L378.5 809.0 L379.0 809.2 L379.5 809.4 L380.0 809.6 L380.5 809.8 L381.0 810.0 L381.5 810.1 L382.0 810.3 L382.5 810.5 L383.0 810.7 L383.5 810.8 L384.0 811.0 L384.5 811.2 L385.0 811.3 L385.5 811.5 L386.0 811.6 L386.5 811.7 L387.0 811.9 L387.5 812.0 L388.0 812.1 L388.5 812.2 L389.0 812.4 L389.5 812.5 L390.0 812.6 L390.5 812.7 L391.0 812.8 L391.5 812.8 L392.0 812.9 L392.5 813.0 L393.0 813.0 L393.5 813.1 L394.0 813.1 L394.5 813.2 L395.0 813.2 L395.5 813.3 L396.0 813.3 L396.5 813.3 L397.0 813.3 L397.5 813.3 L398.0 813.3 L398.5 813.3 L399.0 813.3 L399.5 813.2 L400.0 813.2 L400.5 813.1 L401.0 813.1 L401.5 813.0 L402.0 812.9 L402.5 812.8 L403.0 812.8 L403.5 812.7 L404.0 812.6 L404.5 812.4 L405.0 812.3 L405.5 812.2 L406.0 812.1 L406.5 811.9 L407.0 811.8 L407.5 811.6 L408.0 811.5 L408.5 811.3 L409.0 811.1 L409.5 810.9 L410.0 810.8 L410.5 810.6 L411.0 810.4 L411.5 810.2 L412.0 810.0 L412.5 809.8 L413.0 809.6 L413.5 809.4 L414.0 809.1 L414.5 808.9 L415.0 808.7 L415.5 808.5 L416.0 808.2 L416.5 808.0 L417.0 807.8 L417.5 807.6 L418.0 807.3 L418.5 807.1 L419.0 806.9 L419.5 806.6 L420.0 806.4 L420.5 806.2 L421.0 806.0 L421.5 805.7 L422.0 805.5 L422.5 805.3 L423.0 805.1 L423.5 804.9 L424.0 804.7 L424.5 804.5 L425.0 804.3 L425.5 804.1 L426.0 803.9 L426.5 803.7 L427.0 803.5 L427.5 803.4 L428.0 803.2 L428.5 803.1 L429.0 803.0 L429.5 802.9 L430.0 802.8 L430.5 802.7 L431.0 802.7 L431.5 802.8 L432.0 802.9 L432.5 803.0 L433.0 803.1 L433.5 803.2 L434.0 803.3 L434.5 803.5 L435.0 803.6 L435.5 803.8 L436.0 804.0 L436.5 804.1 L437.0 804.3 L437.5 804.5 L438.0 804.7 L438.5 804.9 L439.0 805.1 L439.5 805.3 L440.0 805.5 L440.5 805.7 L441.0 805.9 L441.5 806.1 L442.0 806.3 L442.5 806.5 L443.0 806.7 L443.5 806.9 L444.0 807.2 L444.5 807.4 L445.0 807.6 L445.5 807.8 L446.0 808.0 L446.5 808.2 L447.0 808.4 L447.5 808.6 L448.0 808.8 L448.5 809.1 L449.0 809.3 L449.5 809.5 L450.0 809.7 L450.5 809.8 L451.0 810.0 L451.5 810.2 L452.0 810.4 L452.5 810.6 L453.0 810.8 L453.5 810.9 L454.0 811.1 L454.5 811.3 L455.0 811.4 L455.5 811.6 L456.0 811.7 L456.5 811.8 L457.0 812.0 L457.5 812.1 L458.0 812.2 L458.5 812.3 L459.0 812.5 L459.5 812.6 L460.0 812.7 L460.5 812.7 L461.0 812.8 L461.5 812.9 L462.0 813.0 L462.5 813.0 L463.0 813.1 L463.5 813.2 L464.0 813.2 L464.5 813.2 L465.0 813.3 L465.5 813.3 L466.0 813.3 L466.5 813.3 L467.0 813.3 L467.5 813.3 L468.0 813.3 L468.5 813.3 L469.0 813.2 L469.5 813.2 L470.0 813.1 L470.5 813.1 L471.0 813.0 L471.5 813.0 L472.0 812.9 L472.5 812.8 L473.0 812.7 L473.5 812.6 L474.0 812.5 L474.5 812.4 L475.0 812.3 L475.5 812.2 L476.0 812.1 L476.5 811.9 L477.0 811.8 L477.5 811.7 L478.0 811.5 L478.5 811.4 L479.0 811.2 L479.5 811.1 L480.0 810.9 L480.5 810.7 L481.0 810.5 L481.5 810.4 L482.0 810.2 L482.5 810.0 L483.0 809.8 L483.5 809.6 L484.0 809.4 L484.5 809.2 L485.0 809.0 L485.5 808.8 L486.0 808.6 L486.5 808.4 L487.0 808.2 L487.5 808.0 L488.0 807.8 L488.5 807.6 L489.0 807.4 L489.5 807.2 L490.0 807.0 L490.5 806.8 L491.0 806.6 L491.5 806.4 L492.0 806.2 L492.5 806.0 L493.0 805.8 L493.5 805.6 L494.0 805.4 L494.5 805.3 L495.0 805.1 L495.5 804.9 L496.0 804.7 L496.5 804.6 L497.0 804.4 L497.5 804.3 L498.0 804.2 L498.5 804.0 L499.0 803.9 L499.5 803.8 L500.0 803.7 L500.5 803.6 L501.0 803.6 L501.5 803.7 L502.0 803.8 L502.5 803.9 L503.0 804.0 L503.5 804.2 L504.0 804.3 L504.5 804.5 L505.0 804.7 L505.5 804.9 L506.0 805.1 L506.5 805.3 L507.0 805.6 L507.5 805.8 L508.0 806.0 L508.5 806.3 L509.0 806.5 L509.5 806.8 L510.0 807.0 L510.5 807.3 L511.0 807.6 L511.5 807.8 L512.0 808.1 L512.5 808.4 L513.0 808.7 L513.5 808.9 L514.0 809.2 L514.5 809.5 L515.0 809.8 L515.5 810.1 L516.0 810.3 L516.5 810.6 L517.0 810.9 L517.5 811.2 L518.0 811.4 L518.5 811.7 L519.0 812.0 L519.5 812.2 L520.0 812.5 L520.5 812.7 L521.0 813.0 L521.5 813.2 L522.0 813.5 L522.5 813.7 L523.0 814.0 L523.5 814.2 L524.0 814.4 L524.5 814.6 L525.0 814.8 L525.5 815.0 L526.0 815.2 L526.5 815.4 L527.0 815.6 L527.5 815.8 L528.0 816.0 L528.5 816.1 L529.0 816.3 L529.5 816.4 L530.0 816.6 L530.5 816.7 L531.0 816.8 L531.5 816.9 L532.0 817.0 L532.5 817.1 L533.0 817.2 L533.5 817.3 L534.0 817.4 L534.5 817.4 L535.0 817.5 L535.5 817.5 L536.0 817.6 L536.5 817.6 L537.0 817.6 L537.5 817.6 L538.0 817.6 L538.5 817.6 L539.0 817.6 L539.5 817.5 L540.0 817.5 L540.5 817.4 L541.0 817.4 L541.5 817.3 L542.0 817.2 L542.5 817.1 L543.0 817.0 L543.5 816.9 L544.0 816.8 L544.5 816.7 L545.0 816.5 L545.5 816.4 L546.0 816.2 L546.5 816.1 L547.0 815.9 L547.5 815.7 L548.0 815.5 L548.5 815.3 L549.0 815.1 L549.5 814.9 L550.0 814.7 L550.5 814.5 L551.0 814.3 L551.5 814.1 L552.0 813.8 L552.5 813.6 L553.0 813.3 L553.5 813.1 L554.0 812.8 L554.5 812.6 L555.0 812.3 L555.5 812.1 L556.0 811.8 L556.5 811.5 L557.0 811.3 L557.5 811.0 L558.0 810.7 L558.5 810.4 L559.0 810.2 L559.5 809.9 L560.0 809.6 L560.5 809.3 L561.0 809.1 L561.5 808.8 L562.0 808.5 L562.5 808.2 L563.0 808.0 L563.5 807.7 L564.0 807.5 L564.5 807.2 L565.0 807.0 L565.5 806.7 L566.0 806.5 L566.5 806.3 L567.0 806.0 L567.5 805.8 L568.0 805.6" stroke="#00f" stroke-width="2.3"/>
<path d="M85.5 843.8 L86.0 844.5 L86.5 845.3 L87.0 846.0 L87.5 846.7 L88.0 847.3 L88.5 847.8 L89.0 848.3 L89.5 848.8 L90.0 849.2 L90.5 849.5 L91.0 849.8 L91.5 849.9 L92.0 850.0 L92.5 849.9 L93.0 849.8 L93.5 849.5 L94.0 849.2 L94.5 848.8 L95.0 848.3 L95.5 847.8 L96.0 847.3 L96.5 846.6 L97.0 846.0 L97.5 845.3 L98.0 844.5 L98.5 843.7 L99.0 842.9 L99.5 842.0 L100.0 841.1 L100.5 840.2 L101.0 839.2 L101.5 838.2 L102.0 837.2 L102.5 836.1 L103.0 835.1 L103.5 834.0 L104.0 832.9 L104.5 831.8 L105.0 830.6 L105.5 829.5 L106.0 828.4 L106.5 827.2 L107.0 826.1 L107.5 824.9 L108.0 823.7 L108.5 822.6 L109.0 821.4 L109.5 820.3 L110.0 819.2 L110.5 818.0 L111.0 816.9 L111.5 815.8 L112.0 814.8 L112.5 813.7 L113.0 812.7 L113.5 811.7 L114.0 810.7 L114.5 809.7 L115.0 808.8 L115.5 807.9 L116.0 807.0 L116.5 806.2 L117.0 805.3 L117.5 804.6 L118.0 803.8 L118.5 803.2 L119.0 802.5 L119.5 801.9 L120.0 801.3 L120.5 800.8 L121.0 800.3 L121.5 799.9 L122.0 799.5 L122.5 799.1 L123.0 798.8 L123.5 798.6 L124.0 798.3 L124.5 798.2 L125.0 798.1 L125.5 798.0 L126.0 798.0 L126.5 798.0 L127.0 798.1 L127.5 798.3 L128.0 798.5 L128.5 798.7 L129.0 799.0 L129.5 799.4 L130.0 799.7 L130.5 800.2 L131.0 800.7 L131.5 801.2 L132.0 801.8 L132.5 802.5 L133.0 803.1 L133.5 803.9 L134.0 804.6 L134.5 805.4 L135.0 806.3 L135.5 807.2 L136.0 808.1 L136.5 809.0 L137.0 810.0 L137.5 811.0 L138.0 812.1 L138.5 813.1 L139.0 814.2 L139.5 815.3 L140.0 816.5 L140.5 817.6 L141.0 818.8 L141.5 820.0 L142.0 821.1 L142.5 822.3 L143.0 823.6 L143.5 824.8 L144.0 826.0 L144.5 827.2 L145.0 828.4 L145.5 829.6 L146.0 830.8 L146.5 832.0 L147.0 833.2 L147.5 834.3 L148.0 835.5 L148.5 836.6 L149.0 837.7 L149.5 838.7 L150.0 839.8 L150.5 840.8 L151.0 841.8 L151.5 842.7 L152.0 843.6 L152.5 844.5 L153.0 845.3 L153.5 846.1 L154.0 846.8 L154.5 847.5 L155.0 848.1 L155.5 848.7 L156.0 849.2 L156.5 849.7 L157.0 850.0 L157.5 850.3 L158.0 850.6 L158.5 850.7 L159.0 850.7 L159.5 850.5 L160.0 850.3 L160.5 850.0 L161.0 849.7 L161.5 849.3 L162.0 848.8 L162.5 848.3 L163.0 847.7 L163.5 847.1 L164.0 846.4 L164.5 845.7 L165.0 845.0 L165.5 844.2 L166.0 843.4 L166.5 842.5 L167.0 841.6 L167.5 840.7 L168.0 839.8 L168.5 838.8 L169.0 837.8 L169.5 836.8 L170.0 835.7 L170.5 834.7 L171.0 833.6 L171.5 832.5 L172.0 831.4 L172.5 830.3 L173.0 829.2 L173.5 828.0 L174.0 826.9 L174.5 825.8 L175.0 824.7 L175.5 823.5 L176.0 822.4 L176.5 821.3 L177.0 820.2 L177.5 819.1 L178.0 818.0 L178.5 816.9 L179.0 815.9 L179.5 814.9 L180.0 813.8 L180.5 812.9 L181.0 811.9 L181.5 810.9 L182.0 810.0 L182.5 809.1 L183.0 808.3 L183.5 807.4 L184.0 806.6 L184.5 805.9 L185.0 805.1 L185.5 804.5 L186.0 803.8 L186.5 803.2 L187.0 802.6 L187.5 802.1 L188.0 801.6 L188.5 801.1 L189.0 800.7 L189.5 800.3 L190.0 800.0 L190.5 799.7 L191.0 799.5 L191.5 799.3 L192.0 799.2 L192.5 799.1 L193.0 799.0 L193.5 799.0 L194.0 799.1 L194.5 799.2 L195.0 799.3 L195.5 799.5 L196.0 799.8 L196.5 800.1 L197.0 800.5 L197.5 800.9 L198.0 801.4 L198.5 801.9 L199.0 802.5 L199.5 803.1 L200.0 803.8 L200.5 804.5 L201.0 805.3 L201.5 806.1 L202.0 806.9 L202.5 807.8 L203.0 808.7 L203.5 809.7 L204.0 810.7 L204.5 811.7 L205.0 812.8 L205.5 813.9 L206.0 815.0 L206.5 816.1 L207.0 817.3 L207.5 818.4 L208.0 819.6 L208.5 820.8 L209.0 822.0 L209.5 823.3 L210.0 824.5 L210.5 825.7 L211.0 827.0 L211.5 828.2 L212.0 829.4 L212.5 830.7 L213.0 831.9 L213.5 833.1 L214.0 834.3 L214.5 835.5 L215.0 836.6 L215.5 837.8 L216.0 838.9 L216.5 840.0 L217.0 841.0 L217.5 842.0 L218.0 843.0 L218.5 844.0 L219.0 844.9 L219.5 845.7 L220.0 846.6 L220.5 847.3 L221.0 848.0 L221.5 848.7 L222.0 849.3 L222.5 849.8 L223.0 850.3 L223.5 850.7 L224.0 851.1 L224.5 851.3 L225.0 851.5 L225.5 851.5 L226.0 851.4 L226.5 851.2 L227.0 850.9 L227.5 850.6 L228.0 850.2 L228.5 849.8 L229.0 849.3 L229.5 848.8 L230.0 848.2 L230.5 847.5 L231.0 846.9 L231.5 846.2 L232.0 845.4 L232.5 844.6 L233.0 843.8 L233.5 843.0 L234.0 842.1 L234.5 841.2 L235.0 840.2 L235.5 839.3 L236.0 838.3 L236.5 837.3 L237.0 836.3 L237.5 835.3 L238.0 834.2 L238.5 833.1 L239.0 832.1 L239.5 831.0 L240.0 829.9 L240.5 828.8 L241.0 827.7 L241.5 826.6 L242.0 825.5 L242.5 824.4 L243.0 823.3 L243.5 822.2 L244.0 821.2 L244.5 820.1 L245.0 819.0 L245.5 818.0 L246.0 817.0 L246.5 816.0 L247.0 815.0 L247.5 814.0 L248.0 813.1 L248.5 812.1 L249.0 811.2 L249.5 810.3 L250.0 809.5 L250.5 808.7 L251.0 807.9 L251.5 807.1 L252.0 806.4 L252.5 805.7 L253.0 805.1 L253.5 804.4 L254.0 803.9 L254.5 803.3 L255.0 802.8 L255.5 802.4 L256.0 801.9 L256.5 801.5 L257.0 801.2 L257.5 800.9 L258.0 800.6 L258.5 800.4 L259.0 800.3 L259.5 800.1 L260.0 800.0 L260.5 800.0 L261.0 800.0 L261.5 800.1 L262.0 800.2 L262.5 800.3 L263.0 800.5 L263.5 800.8 L264.0 801.1 L264.5 801.5 L265.0 801.9 L265.5 802.4 L266.0 802.9 L266.5 803.4 L267.0 804.0 L267.5 804.7 L268.0 805.3 L268.5 806.1 L269.0 806.8 L269.5 807.7 L270.0 808.5 L270.5 809.4 L271.0 810.3 L271.5 811.3 L272.0 812.2 L272.5 813.2 L273.0 814.3 L273.5 815.3 L274.0 816.4 L274.5 817.5 L275.0 818.7 L275.5 819.8 L276.0 821.0 L276.5 822.1 L277.0 823.3 L277.5 824.5 L278.0 825.7 L278.5 826.9 L279.0 828.1 L279.5 829.3 L280.0 830.5 L280.5 831.7 L281.0 832.8 L281.5 834.0 L282.0 835.1 L282.5 836.3 L283.0 837.4 L283.5 838.5 L284.0 839.6 L284.5 840.6 L285.0 841.6 L285.5 842.6 L286.0 843.6 L286.5 844.5 L287.0 845.4 L287.5 846.2 L288.0 847.0 L288.5 847.7 L289.0 848.4 L289.5 849.1 L290.0 849.7 L290.5 850.2 L291.0 850.7 L291.5 851.1 L292.0 851.5 L292.5 851.7 L293.0 851.9 L293.5 852.0 L294.0 851.9 L294.5 851.8 L295.0 851.5 L295.5 851.2 L296.0 850.9 L296.5 850.4 L297.0 850.0 L297.5 849.4 L298.0 848.9 L298.5 848.2 L299.0 847.6 L299.5 846.9 L300.0 846.1 L300.5 845.3 L301.0 844.5 L301.5 843.7 L302.0 842.8 L302.5 841.9 L303.0 840.9 L303.5 839.9 L304.0 839.0 L304.5 837.9 L305.0 836.9 L305.5 835.9 L306.0 834.8 L306.5 833.7 L307.0 832.6 L307.5 831.5 L308.0 830.4 L308.5 829.3 L309.0 828.2 L309.5 827.1 L310.0 826.0 L310.5 824.9 L311.0 823.8 L311.5 822.7 L312.0 821.6 L312.5 820.5 L313.0 819.4 L313.5 818.4 L314.0 817.3 L314.5 816.3 L315.0 815.3 L315.5 814.3 L316.0 813.3 L316.5 812.4 L317.0 811.5 L317.5 810.6 L318.0 809.7 L318.5 808.9 L319.0 808.1 L319.5 807.3 L320.0 806.5 L320.5 805.8 L321.0 805.2 L321.5 804.5 L322.0 803.9 L322.5 803.4 L323.0 802.9 L323.5 802.4 L324.0 802.0 L324.5 801.6 L325.0 801.2 L325.5 800.9 L326.0 800.7 L326.5 800.4 L327.0 800.3 L327.5 800.1 L328.0 800.0 L328.5 800.0 L329.0 800.0 L329.5 800.1 L330.0 800.2 L330.5 800.3 L331.0 800.5 L331.5 800.8 L332.0 801.1 L332.5 801.4 L333.0 801.8 L333.5 802.3 L334.0 802.8 L334.5 803.3 L335.0 803.9 L335.5 804.5 L336.0 805.2 L336.5 805.9 L337.0 806.7 L337.5 807.4 L338.0 808.3 L338.5 809.1 L339.0 810.0 L339.5 810.9 L340.0 811.9 L340.5 812.9 L341.0 813.9 L341.5 814.9 L342.0 816.0 L342.5 817.1 L343.0 818.2 L343.5 819.3 L344.0 820.4 L344.5 821.6 L345.0 822.7 L345.5 823.9 L346.0 825.1 L346.5 826.2 L347.0 827.4 L347.5 828.6 L348.0 829.8 L348.5 831.0 L349.0 832.1 L349.5 833.3 L350.0 834.4 L350.5 835.5 L351.0 836.7 L351.5 837.7 L352.0 838.8 L352.5 839.9 L353.0 840.9 L353.5 841.9 L354.0 842.8 L354.5 843.8 L355.0 844.7 L355.5 845.5 L356.0 846.3 L356.5 847.1 L357.0 847.9 L357.5 848.5 L358.0 849.2 L358.5 849.8 L359.0 850.3 L359.5 850.7 L360.0 851.1 L360.5 851.5 L361.0 851.7 L361.5 851.9 L362.0 852.0 L362.5 851.9 L363.0 851.8 L363.5 851.5 L364.0 851.2 L364.5 850.8 L365.0 850.4 L365.5 849.9 L366.0 849.3 L366.5 848.7 L367.0 848.1 L367.5 847.4 L368.0 846.6 L368.5 845.9 L369.0 845.0 L369.5 844.2 L370.0 843.3 L370.5 842.4 L371.0 841.4 L371.5 840.4 L372.0 839.4 L372.5 838.4 L373.0 837.3 L373.5 836.3 L374.0 835.2 L374.5 834.1 L375.0 832.9 L375.5 831.8 L376.0 830.7 L376.5 829.5 L377.0 828.3 L377.5 827.2 L378.0 826.0 L378.5 824.8 L379.0 823.7 L379.5 822.5 L380.0 821.4 L380.5 820.2 L381.0 819.1 L381.5 818.0 L382.0 816.9 L382.5 815.8 L383.0 814.7 L383.5 813.6 L384.0 812.6 L384.5 811.6 L385.0 810.6 L385.5 809.6 L386.0 808.7 L386.5 807.8 L387.0 806.9 L387.5 806.1 L388.0 805.3 L388.5 804.5 L389.0 803.7 L389.5 803.0 L390.0 802.4 L390.5 801.7 L391.0 801.1 L391.5 800.6 L392.0 800.1 L392.5 799.6 L393.0 799.2 L393.5 798.8 L394.0 798.5 L394.5 798.2 L395.0 798.0 L395.5 797.8 L396.0 797.7 L396.5 797.6 L397.0 797.5 L397.5 797.5 L398.0 797.5 L398.5 797.6 L399.0 797.8 L399.5 798.0 L400.0 798.2 L400.5 798.5 L401.0 798.9 L401.5 799.3 L402.0 799.7 L402.5 800.2 L403.0 800.7 L403.5 801.3 L404.0 801.9 L404.5 802.6 L405.0 803.3 L405.5 804.0 L406.0 804.8 L406.5 805.6 L407.0 806.5 L407.5 807.4 L408.0 808.3 L408.5 809.3 L409.0 810.2 L409.5 811.3 L410.0 812.3 L410.5 813.4 L411.0 814.5 L411.5 815.6 L412.0 816.7 L412.5 817.8 L413.0 819.0 L413.5 820.2 L414.0 821.4 L414.5 822.6 L415.0 823.7 L415.5 824.9 L416.0 826.2 L416.5 827.4 L417.0 828.6 L417.5 829.7 L418.0 830.9 L418.5 832.1 L419.0 833.3 L419.5 834.4 L420.0 835.6 L420.5 836.7 L421.0 837.8 L421.5 838.8 L422.0 839.9 L422.5 840.9 L423.0 841.9 L423.5 842.8 L424.0 843.8 L424.5 844.6 L425.0 845.5 L425.5 846.3 L426.0 847.0 L426.5 847.7 L427.0 848.4 L427.5 849.0 L428.0 849.6 L428.5 850.1 L429.0 850.5 L429.5 850.9 L430.0 851.1 L430.5 851.4 L431.0 851.5 L431.5 851.5 L432.0 851.3 L432.5 851.1 L433.0 850.8 L433.5 850.5 L434.0 850.0 L434.5 849.6 L435.0 849.0 L435.5 848.4 L436.0 847.8 L436.5 847.1 L437.0 846.4 L437.5 845.6 L438.0 844.8 L438.5 844.0 L439.0 843.1 L439.5 842.2 L440.0 841.2 L440.5 840.2 L441.0 839.2 L441.5 838.2 L442.0 837.1 L442.5 836.1 L443.0 835.0 L443.5 833.8 L444.0 832.7 L444.5 831.6 L445.0 830.4 L445.5 829.3 L446.0 828.1 L446.5 826.9 L447.0 825.7 L447.5 824.5 L448.0 823.4 L448.5 822.2 L449.0 821.0 L449.5 819.9 L450.0 818.7 L450.5 817.6 L451.0 816.4 L451.5 815.3 L452.0 814.2 L452.5 813.1 L453.0 812.1 L453.5 811.0 L454.0 810.0 L454.5 809.0 L455.0 808.0 L455.5 807.1 L456.0 806.2 L456.5 805.3 L457.0 804.5 L457.5 803.7 L458.0 802.9 L458.5 802.1 L459.0 801.4 L459.5 800.8 L460.0 800.1 L460.5 799.6 L461.0 799.0 L461.5 798.5 L462.0 798.1 L462.5 797.7 L463.0 797.3 L463.5 797.0 L464.0 796.7 L464.5 796.5 L465.0 796.3 L465.5 796.1 L466.0 796.0 L466.5 796.0 L467.0 796.0 L467.5 796.1 L468.0 796.2 L468.5 796.3 L469.0 796.5 L469.5 796.8 L470.0 797.1 L470.5 797.4 L471.0 797.8 L471.5 798.2 L472.0 798.7 L472.5 799.2 L473.0 799.8 L473.5 800.4 L474.0 801.0 L474.5 801.7 L475.0 802.4 L475.5 803.2 L476.0 804.0 L476.5 804.8 L477.0 805.7 L477.5 806.6 L478.0 807.6 L478.5 808.5 L479.0 809.5 L479.5 810.5 L480.0 811.6 L480.5 812.6 L481.0 813.7 L481.5 814.8 L482.0 815.9 L482.5 817.1 L483.0 818.2 L483.5 819.4 L484.0 820.6 L484.5 821.7 L485.0 822.9 L485.5 824.1 L486.0 825.3 L486.5 826.5 L487.0 827.7 L487.5 828.8 L488.0 830.0 L488.5 831.2 L489.0 832.3 L489.5 833.4 L490.0 834.6 L490.5 835.7 L491.0 836.7 L491.5 837.8 L492.0 838.8 L492.5 839.8 L493.0 840.8 L493.5 841.7 L494.0 842.6 L494.5 843.5 L495.0 844.3 L495.5 845.1 L496.0 845.9 L496.5 846.6 L497.0 847.2 L497.5 847.9 L498.0 848.4 L498.5 848.9 L499.0 849.4 L499.5 849.7 L500.0 850.1 L500.5 850.3 L501.0 850.4 L501.5 850.5 L502.0 850.4 L502.5 850.2 L503.0 849.9 L503.5 849.6 L504.0 849.1 L504.5 848.7 L505.0 848.1 L505.5 847.5 L506.0 846.9 L506.5 846.2 L507.0 845.4 L507.5 844.6 L508.0 843.8 L508.5 842.9 L509.0 842.0 L509.5 841.0 L510.0 840.0 L510.5 839.0 L511.0 837.9 L511.5 836.9 L512.0 835.8 L512.5 834.6 L513.0 833.5 L513.5 832.3 L514.0 831.1 L514.5 829.9 L515.0 828.7 L515.5 827.4 L516.0 826.2 L516.5 825.0 L517.0 823.7 L517.5 822.4 L518.0 821.2 L518.5 819.9 L519.0 818.7 L519.5 817.4 L520.0 816.2 L520.5 815.0 L521.0 813.8 L521.5 812.6 L522.0 811.4 L522.5 810.2 L523.0 809.1 L523.5 808.0 L524.0 806.9 L524.5 805.8 L525.0 804.7 L525.5 803.7 L526.0 802.7 L526.5 801.7 L527.0 800.8 L527.5 799.9 L528.0 799.1 L528.5 798.3 L529.0 797.5 L529.5 796.7 L530.0 796.0 L530.5 795.4 L531.0 794.8 L531.5 794.2 L532.0 793.7 L532.5 793.2 L533.0 792.7 L533.5 792.4 L534.0 792.0 L534.5 791.7 L535.0 791.5 L535.5 791.3 L536.0 791.1 L536.5 791.0 L537.0 791.0 L537.5 791.0 L538.0 791.1 L538.5 791.2 L539.0 791.3 L539.5 791.5 L540.0 791.7 L540.5 792.0 L541.0 792.3 L541.5 792.7 L542.0 793.1 L542.5 793.6 L543.0 794.1 L543.5 794.6 L544.0 795.2 L544.5 795.9 L545.0 796.5 L545.5 797.2 L546.0 798.0 L546.5 798.8 L547.0 799.6 L547.5 800.4 L548.0 801.3 L548.5 802.2 L549.0 803.2 L549.5 804.2 L550.0 805.2 L550.5 806.2 L551.0 807.2 L551.5 808.3 L552.0 809.4 L552.5 810.5 L553.0 811.7 L553.5 812.8 L554.0 814.0 L554.5 815.2 L555.0 816.4 L555.5 817.6 L556.0 818.8 L556.5 820.0 L557.0 821.2 L557.5 822.4 L558.0 823.7 L558.5 824.9 L559.0 826.1 L559.5 827.3 L560.0 828.5 L560.5 829.7 L561.0 830.9 L561.5 832.0 L562.0 833.2 L562.5 834.3 L563.0 835.4 L563.5 836.5 L564.0 837.6 L564.5 838.7 L565.0 839.7 L565.5 840.7 L566.0 841.6 L566.5 842.5 L567.0 843.4 L567.5 844.3 L568.0 845.1" stroke="#00f" stroke-width="7.3"/>
<path d="M85.5 847.9 L86.5 848.1 L87.5 848.3 L88.5 848.5 L89.5 848.7 L90.5 849.0 L91.5 849.3 L92.5 849.6 L93.5 849.9 L94.5 850.2 L95.5 850.5 L96.5 850.9 L97.5 851.2 L98.5 851.6 L99.5 852.0 L100.5 852.3 L101.5 852.7 L102.5 853.1 L103.5 853.4 L104.5 853.8 L105.5 854.1 L106.5 854.4 L107.5 854.7 L108.5 855.0 L109.5 855.3 L110.5 855.6 L111.5 855.8 L112.5 856.0 L113.5 856.2 L114.5 856.4 L115.5 856.5 L116.5 856.6 L117.5 856.7 L118.5 856.8 L119.5 856.8 L120.5 856.8 L121.5 856.8 L122.5 856.7 L123.5 856.6 L124.5 856.5 L125.5 856.4 L126.5 856.2 L127.5 856.0 L128.5 855.8 L129.5 855.6 L130.5 855.3 L131.5 855.1 L132.5 854.8 L133.5 854.5 L134.5 854.2 L135.5 853.8 L136.5 853.5 L137.5 853.2 L138.5 852.9 L139.5 852.5 L140.5 852.2 L141.5 851.8 L142.5 851.5 L143.5 851.2 L144.5 850.9 L145.5 850.6 L146.5 850.3 L147.5 850.1 L148.5 849.8 L149.5 849.6 L150.5 849.4 L151.5 849.3 L152.5 849.1 L153.5 849.0 L154.5 848.9 L155.5 848.8 L156.5 848.8 L157.5 848.8 L158.5 848.8 L159.5 848.9 L160.5 849.0 L161.5 849.1 L162.5 849.3 L163.5 849.5 L164.5 849.7 L165.5 849.9 L166.5 850.2 L167.5 850.5 L168.5 850.8 L169.5 851.2 L170.5 851.5 L171.5 851.9 L172.5 852.3 L173.5 852.7 L174.5 853.1 L175.5 853.5 L176.5 854.0 L177.5 854.4 L178.5 854.8 L179.5 855.2 L180.5 855.6 L181.5 856.0 L182.5 856.3 L183.5 856.7 L184.5 857.0 L185.5 857.3 L186.5 857.6 L187.5 857.8 L188.5 858.0 L189.5 858.2 L190.5 858.4 L191.5 858.5 L192.5 858.6 L193.5 858.7 L194.5 858.7 L195.5 858.7 L196.5 858.6 L197.5 858.6 L198.5 858.5 L199.5 858.3 L200.5 858.2 L201.5 858.0 L202.5 857.7 L203.5 857.5 L204.5 857.2 L205.5 856.9 L206.5 856.6 L207.5 856.3 L208.5 855.9 L209.5 855.6 L210.5 855.2 L211.5 854.8 L212.5 854.4 L213.5 854.1 L214.5 853.7 L215.5 853.3 L216.5 852.9 L217.5 852.6 L218.5 852.2 L219.5 851.9 L220.5 851.6 L221.5 851.3 L222.5 851.0 L223.5 850.8 L224.5 850.6 L225.5 850.4 L226.5 850.2 L227.5 850.1 L228.5 850.0 L229.5 849.9 L230.5 849.9 L231.5 849.9 L232.5 849.9 L233.5 850.0 L234.5 850.1 L235.5 850.2 L236.5 850.4 L237.5 850.5 L238.5 850.7 L239.5 851.0 L240.5 851.2 L241.5 851.5 L242.5 851.8 L243.5 852.1 L244.5 852.5 L245.5 852.8 L246.5 853.2 L247.5 853.6 L248.5 853.9 L249.5 854.3 L250.5 854.7 L251.5 855.1 L252.5 855.5 L253.5 855.8 L254.5 856.2 L255.5 856.6 L256.5 856.9 L257.5 857.3 L258.5 857.6 L259.5 857.9 L260.5 858.2 L261.5 858.4 L262.5 858.7 L263.5 858.9 L264.5 859.0 L265.5 859.2 L266.5 859.3 L267.5 859.4 L268.5 859.5 L269.5 859.5 L270.5 859.5 L271.5 859.5 L272.5 859.4 L273.5 859.3 L274.5 859.2 L275.5 859.0 L276.5 858.8 L277.5 858.6 L278.5 858.3 L279.5 858.1 L280.5 857.8 L281.5 857.5 L282.5 857.1 L283.5 856.8 L284.5 856.4 L285.5 856.1 L286.5 855.7 L287.5 855.3 L288.5 854.9 L289.5 854.5 L290.5 854.1 L291.5 853.8 L292.5 853.4 L293.5 853.1 L294.5 852.7 L295.5 852.4 L296.5 852.1 L297.5 851.9 L298.5 851.6 L299.5 851.4 L300.5 851.2 L301.5 851.0 L302.5 850.9 L303.5 850.8 L304.5 850.7 L305.5 850.7 L306.5 850.7 L307.5 850.7 L308.5 850.8 L309.5 850.9 L310.5 851.0 L311.5 851.2 L312.5 851.4 L313.5 851.6 L314.5 851.8 L315.5 852.1 L316.5 852.4 L317.5 852.7 L318.5 853.0 L319.5 853.4 L320.5 853.7 L321.5 854.1 L322.5 854.5 L323.5 854.9 L324.5 855.3 L325.5 855.7 L326.5 856.1 L327.5 856.5 L328.5 856.8 L329.5 857.2 L330.5 857.6 L331.5 857.9 L332.5 858.3 L333.5 858.6 L334.5 858.9 L335.5 859.2 L336.5 859.5 L337.5 859.7 L338.5 859.9 L339.5 860.1 L340.5 860.2 L341.5 860.3 L342.5 860.4 L343.5 860.5 L344.5 860.5 L345.5 860.5 L346.5 860.5 L347.5 860.4 L348.5 860.3 L349.5 860.3 L350.5 860.1 L351.5 860.0 L352.5 859.9 L353.5 859.7 L354.5 859.5 L355.5 859.3 L356.5 859.1 L357.5 858.9 L358.5 858.7 L359.5 858.4 L360.5 858.2 L361.5 858.0 L362.5 857.7 L363.5 857.5 L364.5 857.3 L365.5 857.0 L366.5 856.8 L367.5 856.6 L368.5 856.4 L369.5 856.2 L370.5 856.0 L371.5 855.8 L372.5 855.7 L373.5 855.6 L374.5 855.4 L375.5 855.4 L376.5 855.3 L377.5 855.2 L378.5 855.2 L379.5 855.2 L380.5 855.2 L381.5 855.3 L382.5 855.4 L383.5 855.5 L384.5 855.6 L385.5 855.8 L386.5 856.0 L387.5 856.3 L388.5 856.5 L389.5 856.8 L390.5 857.1 L391.5 857.4 L392.5 857.8 L393.5 858.1 L394.5 858.5 L395.5 858.9 L396.5 859.3 L397.5 859.7 L398.5 860.1 L399.5 860.5 L400.5 860.9 L401.5 861.3 L402.5 861.6 L403.5 862.0 L404.5 862.4 L405.5 862.7 L406.5 863.0 L407.5 863.3 L408.5 863.6 L409.5 863.8 L410.5 864.1 L411.5 864.3 L412.5 864.4 L413.5 864.6 L414.5 864.7 L415.5 864.7 L416.5 864.8 L417.5 864.8 L418.5 864.8 L419.5 864.7 L420.5 864.7 L421.5 864.6 L422.5 864.5 L423.5 864.4 L424.5 864.2 L425.5 864.1 L426.5 863.9 L427.5 863.7 L428.5 863.5 L429.5 863.3 L430.5 863.1 L431.5 862.8 L432.5 862.6 L433.5 862.4 L434.5 862.1 L435.5 861.9 L436.5 861.7 L437.5 861.4 L438.5 861.2 L439.5 861.0 L440.5 860.8 L441.5 860.7 L442.5 860.5 L443.5 860.4 L444.5 860.3 L445.5 860.2 L446.5 860.1 L447.5 860.0 L448.5 860.0 L449.5 860.0 L450.5 860.0 L451.5 860.1 L452.5 860.2 L453.5 860.3 L454.5 860.4 L455.5 860.6 L456.5 860.8 L457.5 861.0 L458.5 861.2 L459.5 861.5 L460.5 861.8 L461.5 862.1 L462.5 862.4 L463.5 862.8 L464.5 863.2 L465.5 863.5 L466.5 863.9 L467.5 864.3 L468.5 864.7 L469.5 865.1 L470.5 865.5 L471.5 865.9 L472.5 866.3 L473.5 866.7 L474.5 867.0 L475.5 867.4 L476.5 867.7 L477.5 868.1 L478.5 868.4 L479.5 868.7 L480.5 869.0 L481.5 869.2 L482.5 869.5 L483.5 869.7 L484.5 869.8 L485.5 870.0 L486.5 870.1 L487.5 870.2 L488.5 870.3 L489.5 870.3 L490.5 870.3 L491.5 870.3 L492.5 870.2 L493.5 870.2 L494.5 870.1 L495.5 870.0 L496.5 869.9 L497.5 869.8 L498.5 869.6 L499.5 869.5 L500.5 869.4 L501.5 869.2 L502.5 869.1 L503.5 869.0 L504.5 868.8 L505.5 868.7 L506.5 868.6 L507.5 868.5 L508.5 868.4 L509.5 868.4 L510.5 868.3 L511.5 868.3 L512.5 868.3 L513.5 868.3 L514.5 868.4 L515.5 868.4 L516.5 868.5 L517.5 868.6 L518.5 868.7 L519.5 868.8 L520.5 869.0 L521.5 869.1 L522.5 869.3 L523.5 869.5 L524.5 869.7 L525.5 869.9 L526.5 870.1 L527.5 870.4 L528.5 870.6 L529.5 870.9 L530.5 871.2 L531.5 871.5 L532.5 871.8 L533.5 872.1 L534.5 872.4 L535.5 872.7 L536.5 873.0 L537.5 873.3 L538.5 873.7 L539.5 874.0 L540.5 874.3 L541.5 874.6 L542.5 875.0 L543.5 875.3 L544.5 875.6 L545.5 875.9 L546.5 876.2 L547.5 876.5 L548.5 876.8 L549.5 877.1 L550.5 877.4 L551.5 877.7 L552.5 877.9 L553.5 878.2 L554.5 878.4 L555.5 878.6 L556.5 878.8 L557.5 879.0 L558.5 879.2 L559.5 879.3 L560.5 879.5 L561.5 879.6 L562.5 879.7 L563.5 879.8 L564.5 879.9 L565.5 879.9 L566.5 880.0 L567.5 880.0 L568.0 880.0" stroke="#f00" stroke-width="2.4" stroke-dasharray="7.8 2.9 2.6 2.9" stroke-dashoffset="0"/>
<path d="M85.5 783.9 L86.5 782.5 L87.5 781.0 L88.5 779.2 L89.5 777.2 L90.5 775.1 L91.5 772.7 L92.5 770.3 L93.5 767.7 L94.5 764.9 L95.5 762.1 L96.5 759.2 L97.5 756.3 L98.5 753.3 L99.5 750.4 L100.5 747.4 L101.5 744.5 L102.5 741.6 L103.5 738.8 L104.5 736.1 L105.5 733.5 L106.5 731.1 L107.5 728.8 L108.5 726.7 L109.5 724.7 L110.5 723.0 L111.5 721.5 L112.5 720.2 L113.5 719.1 L114.5 718.3 L115.5 717.7 L116.5 717.4 L117.5 717.3 L118.5 717.5 L119.5 717.8 L120.5 718.4 L121.5 719.3 L122.5 720.3 L123.5 721.5 L124.5 723.0 L125.5 724.6 L126.5 726.4 L127.5 728.3 L128.5 730.4 L129.5 732.7 L130.5 735.1 L131.5 737.6 L132.5 740.1 L133.5 742.8 L134.5 745.5 L135.5 748.2 L136.5 751.0 L137.5 753.8 L138.5 756.5 L139.5 759.2 L140.5 761.9 L141.5 764.5 L142.5 767.0 L143.5 769.4 L144.5 771.7 L145.5 773.8 L146.5 775.9 L147.5 777.7 L148.5 779.4 L149.5 780.9 L150.5 782.2 L151.5 783.2 L152.5 784.1 L153.5 784.8 L154.5 785.2 L155.5 785.5 L156.5 785.5 L157.5 785.2 L158.5 784.7 L159.5 784.0 L160.5 783.0 L161.5 781.8 L162.5 780.3 L163.5 778.6 L164.5 776.8 L165.5 774.7 L166.5 772.5 L167.5 770.1 L168.5 767.6 L169.5 764.9 L170.5 762.2 L171.5 759.3 L172.5 756.4 L173.5 753.4 L174.5 750.4 L175.5 747.5 L176.5 744.5 L177.5 741.6 L178.5 738.7 L179.5 735.9 L180.5 733.2 L181.5 730.6 L182.5 728.2 L183.5 725.9 L184.5 723.8 L185.5 721.9 L186.5 720.2 L187.5 718.7 L188.5 717.4 L189.5 716.3 L190.5 715.5 L191.5 714.9 L192.5 714.6 L193.5 714.5 L194.5 714.7 L195.5 715.1 L196.5 715.7 L197.5 716.5 L198.5 717.6 L199.5 718.9 L200.5 720.4 L201.5 722.0 L202.5 723.9 L203.5 725.9 L204.5 728.1 L205.5 730.4 L206.5 732.8 L207.5 735.3 L208.5 738.0 L209.5 740.7 L210.5 743.4 L211.5 746.2 L212.5 749.0 L213.5 751.8 L214.5 754.5 L215.5 757.2 L216.5 759.9 L217.5 762.4 L218.5 764.9 L219.5 767.3 L220.5 769.5 L221.5 771.5 L222.5 773.4 L223.5 775.2 L224.5 776.7 L225.5 778.0 L226.5 779.2 L227.5 780.1 L228.5 780.8 L229.5 781.2 L230.5 781.5 L231.5 781.5 L232.5 781.2 L233.5 780.8 L234.5 780.0 L235.5 779.1 L236.5 777.9 L237.5 776.5 L238.5 774.9 L239.5 773.2 L240.5 771.2 L241.5 769.0 L242.5 766.7 L243.5 764.3 L244.5 761.7 L245.5 759.1 L246.5 756.3 L247.5 753.5 L248.5 750.6 L249.5 747.7 L250.5 744.7 L251.5 741.8 L252.5 738.9 L253.5 736.0 L254.5 733.3 L255.5 730.6 L256.5 728.0 L257.5 725.5 L258.5 723.1 L259.5 720.9 L260.5 718.9 L261.5 717.1 L262.5 715.4 L263.5 714.0 L264.5 712.7 L265.5 711.7 L266.5 710.9 L267.5 710.4 L268.5 710.1 L269.5 710.0 L270.5 710.2 L271.5 710.6 L272.5 711.2 L273.5 712.1 L274.5 713.1 L275.5 714.4 L276.5 715.9 L277.5 717.6 L278.5 719.5 L279.5 721.6 L280.5 723.8 L281.5 726.1 L282.5 728.6 L283.5 731.1 L284.5 733.8 L285.5 736.5 L286.5 739.3 L287.5 742.1 L288.5 744.9 L289.5 747.7 L290.5 750.5 L291.5 753.2 L292.5 755.9 L293.5 758.4 L294.5 760.9 L295.5 763.2 L296.5 765.4 L297.5 767.5 L298.5 769.4 L299.5 771.1 L300.5 772.6 L301.5 773.9 L302.5 774.9 L303.5 775.8 L304.5 776.4 L305.5 776.8 L306.5 777.0 L307.5 776.9 L308.5 776.6 L309.5 775.9 L310.5 775.0 L311.5 773.8 L312.5 772.4 L313.5 770.8 L314.5 768.9 L315.5 766.8 L316.5 764.4 L317.5 762.0 L318.5 759.3 L319.5 756.5 L320.5 753.6 L321.5 750.6 L322.5 747.5 L323.5 744.3 L324.5 741.1 L325.5 738.0 L326.5 734.8 L327.5 731.7 L328.5 728.6 L329.5 725.7 L330.5 722.8 L331.5 720.1 L332.5 717.5 L333.5 715.1 L334.5 713.0 L335.5 711.0 L336.5 709.2 L337.5 707.7 L338.5 706.4 L339.5 705.4 L340.5 704.7 L341.5 704.2 L342.5 704.0 L343.5 704.1 L344.5 704.4 L345.5 704.9 L346.5 705.6 L347.5 706.6 L348.5 707.8 L349.5 709.1 L350.5 710.7 L351.5 712.5 L352.5 714.4 L353.5 716.4 L354.5 718.7 L355.5 721.0 L356.5 723.4 L357.5 726.0 L358.5 728.6 L359.5 731.2 L360.5 733.9 L361.5 736.7 L362.5 739.4 L363.5 742.1 L364.5 744.7 L365.5 747.3 L366.5 749.8 L367.5 752.2 L368.5 754.5 L369.5 756.7 L370.5 758.7 L371.5 760.6 L372.5 762.3 L373.5 763.8 L374.5 765.1 L375.5 766.2 L376.5 767.1 L377.5 767.8 L378.5 768.2 L379.5 768.5 L380.5 768.5 L381.5 768.2 L382.5 767.7 L383.5 766.9 L384.5 765.9 L385.5 764.6 L386.5 763.1 L387.5 761.4 L388.5 759.4 L389.5 757.3 L390.5 755.0 L391.5 752.5 L392.5 749.9 L393.5 747.1 L394.5 744.2 L395.5 741.3 L396.5 738.2 L397.5 735.2 L398.5 732.1 L399.5 729.0 L400.5 725.9 L401.5 722.8 L402.5 719.8 L403.5 716.9 L404.5 714.1 L405.5 711.5 L406.5 708.9 L407.5 706.6 L408.5 704.4 L409.5 702.4 L410.5 700.6 L411.5 699.0 L412.5 697.7 L413.5 696.6 L414.5 695.7 L415.5 695.1 L416.5 694.8 L417.5 694.7 L418.5 694.9 L419.5 695.3 L420.5 696.0 L421.5 697.0 L422.5 698.1 L423.5 699.6 L424.5 701.2 L425.5 703.0 L426.5 705.0 L427.5 707.2 L428.5 709.6 L429.5 712.0 L430.5 714.6 L431.5 717.3 L432.5 720.0 L433.5 722.7 L434.5 725.5 L435.5 728.2 L436.5 730.9 L437.5 733.6 L438.5 736.2 L439.5 738.6 L440.5 741.0 L441.5 743.2 L442.5 745.2 L443.5 747.0 L444.5 748.6 L445.5 750.1 L446.5 751.2 L447.5 752.2 L448.5 752.9 L449.5 753.3 L450.5 753.5 L451.5 753.4 L452.5 753.1 L453.5 752.4 L454.5 751.5 L455.5 750.4 L456.5 749.0 L457.5 747.4 L458.5 745.5 L459.5 743.4 L460.5 741.1 L461.5 738.7 L462.5 736.1 L463.5 733.3 L464.5 730.4 L465.5 727.4 L466.5 724.4 L467.5 721.3 L468.5 718.1 L469.5 715.0 L470.5 711.9 L471.5 708.8 L472.5 705.8 L473.5 702.8 L474.5 700.0 L475.5 697.3 L476.5 694.8 L477.5 692.4 L478.5 690.2 L479.5 688.3 L480.5 686.5 L481.5 685.0 L482.5 683.7 L483.5 682.7 L484.5 681.9 L485.5 681.4 L486.5 681.2 L487.5 681.3 L488.5 681.6 L489.5 682.1 L490.5 682.9 L491.5 683.9 L492.5 685.1 L493.5 686.5 L494.5 688.1 L495.5 689.9 L496.5 691.8 L497.5 693.9 L498.5 696.0 L499.5 698.3 L500.5 700.6 L501.5 702.9 L502.5 705.2 L503.5 707.5 L504.5 709.8 L505.5 712.0 L506.5 714.1 L507.5 716.0 L508.5 717.9 L509.5 719.5 L510.5 721.0 L511.5 722.3 L512.5 723.4 L513.5 724.2 L514.5 724.8 L515.5 725.2 L516.5 725.3 L517.5 725.2 L518.5 724.8 L519.5 724.1 L520.5 723.2 L521.5 722.0 L522.5 720.6 L523.5 719.0 L524.5 717.2 L525.5 715.1 L526.5 712.9 L527.5 710.5 L528.5 708.0 L529.5 705.3 L530.5 702.5 L531.5 699.6 L532.5 696.7 L533.5 693.7 L534.5 690.7 L535.5 687.7 L536.5 684.7 L537.5 681.8 L538.5 679.0 L539.5 676.2 L540.5 673.6 L541.5 671.1 L542.5 668.7 L543.5 666.5 L544.5 664.5 L545.5 662.8 L546.5 661.2 L547.5 659.9 L548.5 658.8 L549.5 658.0 L550.5 657.4 L551.5 657.1 L552.5 657.0 L553.5 657.1 L554.5 657.3 L555.5 657.7 L556.5 658.1 L557.5 658.7 L558.5 659.4 L559.5 660.2 L560.5 661.0 L561.5 662.0 L562.5 663.1 L563.5 664.3 L564.5 665.6 L565.5 666.9 L566.5 668.3 L567.5 669.7 L568.0 670.5" stroke="#f00" stroke-width="7" stroke-dasharray="17.5 7" stroke-dashoffset="-1"/>
<path d="M85.5 539.8 L86.5 539.2 L87.5 538.5 L88.5 537.9 L89.5 537.2 L90.5 536.5 L91.5 535.7 L92.5 535.0 L93.5 534.3 L94.5 533.5 L95.5 532.8 L96.5 532.0 L97.5 531.3 L98.5 530.6 L99.5 529.8 L100.5 529.1 L101.5 528.4 L102.5 527.8 L103.5 527.1 L104.5 526.5 L105.5 525.9 L106.5 525.3 L107.5 524.8 L108.5 524.3 L109.5 523.8 L110.5 523.3 L111.5 523.0 L112.5 522.6 L113.5 522.3 L114.5 522.0 L115.5 521.8 L116.5 521.6 L117.5 521.4 L118.5 521.4 L119.5 521.3 L120.5 521.3 L121.5 521.4 L122.5 521.7 L123.5 522.1 L124.5 522.5 L125.5 523.1 L126.5 523.9 L127.5 524.7 L128.5 525.6 L129.5 526.6 L130.5 527.7 L131.5 528.8 L132.5 530.0 L133.5 531.3 L134.5 532.6 L135.5 533.9 L136.5 535.3 L137.5 536.6 L138.5 538.0 L139.5 539.3 L140.5 540.6 L141.5 541.9 L142.5 543.1 L143.5 544.2 L144.5 545.3 L145.5 546.3 L146.5 547.2 L147.5 548.1 L148.5 548.8 L149.5 549.4 L150.5 549.9 L151.5 550.3 L152.5 550.5 L153.5 550.7 L154.5 550.7 L155.5 550.6 L156.5 550.4 L157.5 550.1 L158.5 549.7 L159.5 549.3 L160.5 548.7 L161.5 548.0 L162.5 547.3 L163.5 546.5 L164.5 545.6 L165.5 544.7 L166.5 543.7 L167.5 542.6 L168.5 541.6 L169.5 540.5 L170.5 539.4 L171.5 538.2 L172.5 537.1 L173.5 536.0 L174.5 534.9 L175.5 533.8 L176.5 532.7 L177.5 531.7 L178.5 530.8 L179.5 529.9 L180.5 529.0 L181.5 528.3 L182.5 527.6 L183.5 527.0 L184.5 526.4 L185.5 526.0 L186.5 525.7 L187.5 525.5 L188.5 525.3 L189.5 525.3 L190.5 525.4 L191.5 525.6 L192.5 525.9 L193.5 526.4 L194.5 527.0 L195.5 527.7 L196.5 528.5 L197.5 529.4 L198.5 530.4 L199.5 531.5 L200.5 532.7 L201.5 533.9 L202.5 535.2 L203.5 536.6 L204.5 538.0 L205.5 539.4 L206.5 540.8 L207.5 542.3 L208.5 543.7 L209.5 545.2 L210.5 546.6 L211.5 548.0 L212.5 549.3 L213.5 550.6 L214.5 551.8 L215.5 553.0 L216.5 554.0 L217.5 555.0 L218.5 555.8 L219.5 556.6 L220.5 557.3 L221.5 557.8 L222.5 558.2 L223.5 558.5 L224.5 558.7 L225.5 558.7 L226.5 558.6 L227.5 558.4 L228.5 558.1 L229.5 557.7 L230.5 557.2 L231.5 556.6 L232.5 555.9 L233.5 555.2 L234.5 554.3 L235.5 553.3 L236.5 552.3 L237.5 551.2 L238.5 550.1 L239.5 548.9 L240.5 547.6 L241.5 546.4 L242.5 545.1 L243.5 543.8 L244.5 542.4 L245.5 541.1 L246.5 539.8 L247.5 538.5 L248.5 537.3 L249.5 536.0 L250.5 534.9 L251.5 533.7 L252.5 532.7 L253.5 531.7 L254.5 530.8 L255.5 529.9 L256.5 529.2 L257.5 528.5 L258.5 527.9 L259.5 527.5 L260.5 527.1 L261.5 526.9 L262.5 526.7 L263.5 526.7 L264.5 526.8 L265.5 527.0 L266.5 527.2 L267.5 527.6 L268.5 528.1 L269.5 528.7 L270.5 529.3 L271.5 530.1 L272.5 531.0 L273.5 531.9 L274.5 532.9 L275.5 534.0 L276.5 535.1 L277.5 536.3 L278.5 537.6 L279.5 538.9 L280.5 540.2 L281.5 541.6 L282.5 543.0 L283.5 544.4 L284.5 545.8 L285.5 547.2 L286.5 548.6 L287.5 550.0 L288.5 551.4 L289.5 552.7 L290.5 554.1 L291.5 555.3 L292.5 556.5 L293.5 557.7 L294.5 558.8 L295.5 559.8 L296.5 560.8 L297.5 561.6 L298.5 562.4 L299.5 563.1 L300.5 563.7 L301.5 564.3 L302.5 564.7 L303.5 565.0 L304.5 565.2 L305.5 565.3 L306.5 565.3 L307.5 565.1 L308.5 564.8 L309.5 564.4 L310.5 563.8 L311.5 563.1 L312.5 562.3 L313.5 561.3 L314.5 560.2 L315.5 559.0 L316.5 557.7 L317.5 556.4 L318.5 554.9 L319.5 553.4 L320.5 551.8 L321.5 550.2 L322.5 548.5 L323.5 546.8 L324.5 545.2 L325.5 543.5 L326.5 541.8 L327.5 540.2 L328.5 538.6 L329.5 537.1 L330.5 535.6 L331.5 534.3 L332.5 533.0 L333.5 531.8 L334.5 530.7 L335.5 529.7 L336.5 528.9 L337.5 528.2 L338.5 527.6 L339.5 527.2 L340.5 526.9 L341.5 526.7 L342.5 526.7 L343.5 526.8 L344.5 527.1 L345.5 527.4 L346.5 527.8 L347.5 528.4 L348.5 529.1 L349.5 529.8 L350.5 530.7 L351.5 531.7 L352.5 532.7 L353.5 533.8 L354.5 535.0 L355.5 536.3 L356.5 537.6 L357.5 539.0 L358.5 540.4 L359.5 541.8 L360.5 543.3 L361.5 544.8 L362.5 546.3 L363.5 547.8 L364.5 549.3 L365.5 550.8 L366.5 552.3 L367.5 553.7 L368.5 555.1 L369.5 556.5 L370.5 557.8 L371.5 559.0 L372.5 560.2 L373.5 561.2 L374.5 562.2 L375.5 563.1 L376.5 564.0 L377.5 564.7 L378.5 565.3 L379.5 565.8 L380.5 566.2 L381.5 566.5 L382.5 566.6 L383.5 566.7 L384.5 566.6 L385.5 566.5 L386.5 566.2 L387.5 565.7 L388.5 565.2 L389.5 564.6 L390.5 563.8 L391.5 563.0 L392.5 562.0 L393.5 561.0 L394.5 559.9 L395.5 558.7 L396.5 557.4 L397.5 556.0 L398.5 554.7 L399.5 553.2 L400.5 551.7 L401.5 550.2 L402.5 548.7 L403.5 547.1 L404.5 545.6 L405.5 544.1 L406.5 542.5 L407.5 541.0 L408.5 539.6 L409.5 538.1 L410.5 536.8 L411.5 535.5 L412.5 534.2 L413.5 533.1 L414.5 532.0 L415.5 531.0 L416.5 530.1 L417.5 529.3 L418.5 528.6 L419.5 528.0 L420.5 527.5 L421.5 527.2 L422.5 526.9 L423.5 526.8 L424.5 526.8 L425.5 526.9 L426.5 527.2 L427.5 527.5 L428.5 527.9 L429.5 528.5 L430.5 529.2 L431.5 529.9 L432.5 530.8 L433.5 531.7 L434.5 532.8 L435.5 533.9 L436.5 535.1 L437.5 536.4 L438.5 537.7 L439.5 539.1 L440.5 540.6 L441.5 542.1 L442.5 543.6 L443.5 545.2 L444.5 546.8 L445.5 548.4 L446.5 549.9 L447.5 551.5 L448.5 553.1 L449.5 554.7 L450.5 556.2 L451.5 557.7 L452.5 559.2 L453.5 560.6 L454.5 561.9 L455.5 563.2 L456.5 564.4 L457.5 565.5 L458.5 566.6 L459.5 567.5 L460.5 568.4 L461.5 569.1 L462.5 569.8 L463.5 570.4 L464.5 570.8 L465.5 571.1 L466.5 571.4 L467.5 571.5 L468.5 571.5 L469.5 571.4 L470.5 571.1 L471.5 570.8 L472.5 570.3 L473.5 569.7 L474.5 569.0 L475.5 568.1 L476.5 567.2 L477.5 566.2 L478.5 565.1 L479.5 563.9 L480.5 562.6 L481.5 561.2 L482.5 559.8 L483.5 558.3 L484.5 556.8 L485.5 555.2 L486.5 553.6 L487.5 552.0 L488.5 550.3 L489.5 548.7 L490.5 547.0 L491.5 545.4 L492.5 543.8 L493.5 542.2 L494.5 540.6 L495.5 539.1 L496.5 537.7 L497.5 536.3 L498.5 534.9 L499.5 533.7 L500.5 532.5 L501.5 531.5 L502.5 530.5 L503.5 529.6 L504.5 528.9 L505.5 528.2 L506.5 527.7 L507.5 527.2 L508.5 526.9 L509.5 526.8 L510.5 526.7 L511.5 526.8 L512.5 526.9 L513.5 527.2 L514.5 527.6 L515.5 528.1 L516.5 528.8 L517.5 529.5 L518.5 530.3 L519.5 531.2 L520.5 532.2 L521.5 533.3 L522.5 534.5 L523.5 535.8 L524.5 537.1 L525.5 538.5 L526.5 540.0 L527.5 541.5 L528.5 543.0 L529.5 544.6 L530.5 546.2 L531.5 547.8 L532.5 549.4 L533.5 551.1 L534.5 552.7 L535.5 554.3 L536.5 555.9 L537.5 557.4 L538.5 558.9 L539.5 560.4 L540.5 561.8 L541.5 563.1 L542.5 564.4 L543.5 565.6 L544.5 566.7 L545.5 567.8 L546.5 568.7 L547.5 569.6 L548.5 570.3 L549.5 571.0 L550.5 571.5 L551.5 571.9 L552.5 572.2 L553.5 572.4 L554.5 572.5 L555.5 572.4 L556.5 572.2 L557.5 571.7 L558.5 571.1 L559.5 570.2 L560.5 569.2 L561.5 568.0 L562.5 566.6 L563.5 565.1 L564.5 563.4 L565.5 561.7 L566.5 559.8 L567.5 557.8 L568.0 556.8" stroke="#000" stroke-width="6" stroke-dasharray="6 6.5" stroke-dashoffset="0.2"/>
<path d="M85.5 888.7 L134.5 888.7" stroke="#000" stroke-width="2.3" stroke-dasharray="2 1"/>
<path d="M135.0 887.7 L299.0 887.6 L300.5 886.9" stroke="#000" stroke-width="2.3" stroke-dasharray="2.6 1.9"/>
<path d="M300.5 886.9 L311.0 886.9 L313.0 887.6 L372.0 887.6 L374.0 886.9 L395.0 886.9 L397.0 887.6 L534.0 887.6 L536.0 886.6 L568.0 886.6" stroke="#000" stroke-width="2.3" stroke-dasharray="2.7 2.8"/>
</g>
<text class="tk" transform="translate(80.5 899.5) scale(1 1.045)" text-anchor="end">0</text>
<text class="tk" transform="translate(80.5 815.5) scale(1 1.045)" text-anchor="end">0.2</text>
<text class="tk" transform="translate(80.5 731.5) scale(1 1.045)" text-anchor="end">0.4</text>
<text class="tk" transform="translate(80.5 647.4) scale(1 1.045)" text-anchor="end">0.6</text>
<text class="tk" transform="translate(80.5 563.4) scale(1 1.045)" text-anchor="end">0.8</text>
<path d="M374 0L710 1409L580 1409Q360 1224 45 1067L8 881Q225 965 418 1080L159 0Z" fill="#000" transform="translate(67.90 479.40) scale(0.01348 -0.01408)"/>
<text class="yl" transform="translate(25.3 680.2) rotate(-90) scale(1 1.045)" text-anchor="middle">R &amp; T</text>
<text class="pl" transform="translate(98 509.3) scale(1 1)">(b)</text>
</g>
<text class="tk" transform="translate(133.8 920) scale(1 1.045)" text-anchor="middle" xml:space="preserve"> 265</text>
<path d="M374 0L710 1409L580 1409Q360 1224 45 1067L8 881Q225 965 418 1080L159 0Z" fill="#000" transform="translate(104.83 920.00) scale(0.01348 -0.01408)"/>
<text class="tk" transform="translate(277.0 920) scale(1 1.045)" text-anchor="middle" xml:space="preserve"> 280</text>
<path d="M374 0L710 1409L580 1409Q360 1224 45 1067L8 881Q225 965 418 1080L159 0Z" fill="#000" transform="translate(248.02 920.00) scale(0.01348 -0.01408)"/>
<text class="tk" transform="translate(420.2 920) scale(1 1.045)" text-anchor="middle" xml:space="preserve"> 295</text>
<path d="M374 0L710 1409L580 1409Q360 1224 45 1067L8 881Q225 965 418 1080L159 0Z" fill="#000" transform="translate(391.21 920.00) scale(0.01348 -0.01408)"/>
<text class="tk" transform="translate(563.4 920) scale(1 1.045)" text-anchor="middle" xml:space="preserve"> 3 0</text>
<path d="M374 0L710 1409L580 1409Q360 1224 45 1067L8 881Q225 965 418 1080L159 0Z" fill="#000" transform="translate(534.40 920.00) scale(0.01348 -0.01408)"/>
<path d="M374 0L710 1409L580 1409Q360 1224 45 1067L8 881Q225 965 418 1080L159 0Z" fill="#000" transform="translate(564.40 920.00) scale(0.01348 -0.01408)"/>
<g id="lambda" fill="none" stroke="#000" stroke-linecap="round" stroke-linejoin="round">
<path d="M269.9 936.6 C270.3 934.4 272.8 933.2 274.4 935.8 L283.4 954.0 C284.4 956.2 286.6 956.4 288.4 953.4" stroke-width="2.3"/>
<path d="M277.3 945.8 L270.0 957.2" stroke-width="1.9"/>
</g>
<text class="xl" transform="translate(303.8 957) scale(1 1.045)">(nm)</text>
</svg>
</body></html>
